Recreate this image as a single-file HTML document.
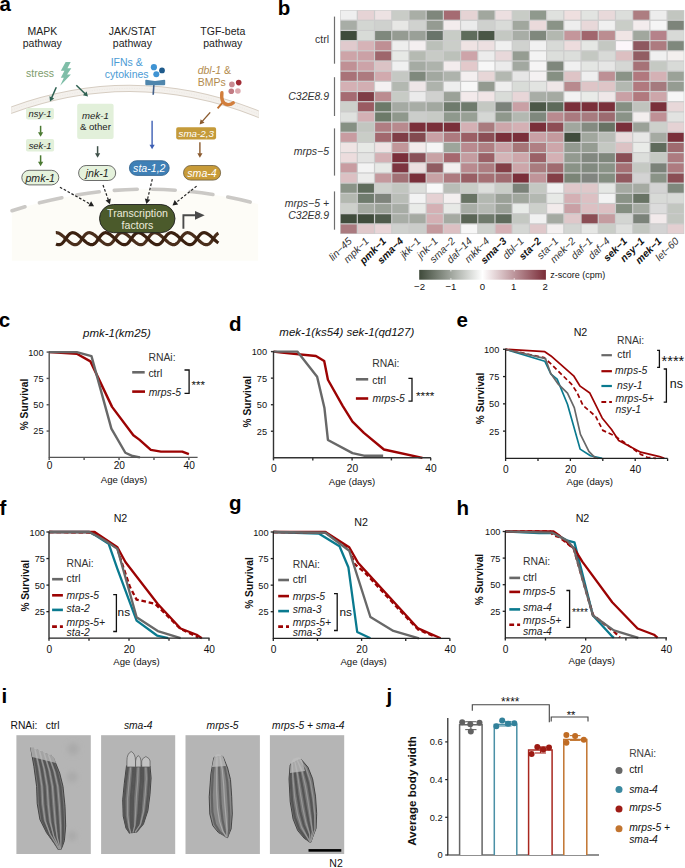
<!DOCTYPE html>
<html><head><meta charset="utf-8"><style>
html,body{margin:0;padding:0;background:#fff;}
svg{display:block;font-family:"Liberation Sans", sans-serif;}
</style></head><body>
<svg width="685" height="868" viewBox="0 0 685 868">
<text x="-0.60" y="10.70" font-size="20.5" text-anchor="start" font-weight="bold" fill="#000" >a</text>
<text x="277.80" y="14.60" font-size="20.5" text-anchor="start" font-weight="bold" fill="#000" >b</text>
<text x="-1.20" y="327.40" font-size="20.5" text-anchor="start" font-weight="bold" fill="#000" >c</text>
<text x="229.00" y="331.00" font-size="20.5" text-anchor="start" font-weight="bold" fill="#000" >d</text>
<text x="456.60" y="327.30" font-size="20.5" text-anchor="start" font-weight="bold" fill="#000" >e</text>
<text x="-0.60" y="514.60" font-size="20.5" text-anchor="start" font-weight="bold" fill="#000" >f</text>
<text x="229.00" y="510.40" font-size="20.5" text-anchor="start" font-weight="bold" fill="#000" >g</text>
<text x="456.60" y="514.90" font-size="20.5" text-anchor="start" font-weight="bold" fill="#000" >h</text>
<text x="1.50" y="702.80" font-size="20.5" text-anchor="start" font-weight="bold" fill="#000" >i</text>
<text x="386.60" y="702.60" font-size="20.5" text-anchor="start" font-weight="bold" fill="#000" >j</text>
<path d="M11.8,210.8 Q135,171.24 258.2,204.1 L258.2,260.8 L11.8,260.8 Z" fill="#fdfcf7"/>
<path d="M12,210.75 Q135,171.24 258,204.08" fill="none" stroke="#cbc9c6" stroke-width="3.6" stroke-linecap="round" stroke-dasharray="23 15" stroke-dashoffset="9.5"/>
<defs><clipPath id="memclip"><rect x="11.2" y="60" width="247.6" height="70"/></clipPath></defs>
<g clip-path="url(#memclip)">
<path d="M7.0,111.78 Q135.0,63.03 263.0,115.97" fill="none" stroke="#d6cdc2" stroke-width="7.2"/>
<path d="M7.0,111.78 Q135.0,63.03 263.0,115.97" fill="none" stroke="#f4f1ed" stroke-width="5.2"/>
<path d="M7.0,111.78 Q135.0,63.03 263.0,115.97" fill="none" stroke="#e9e4dd" stroke-width="0.6" stroke-dasharray="1 1.5"/>
</g>
<text x="42.30" y="35.20" font-size="10.5" text-anchor="middle" fill="#222" >MAPK</text>
<text x="42.30" y="47.40" font-size="10.5" text-anchor="middle" fill="#222" >pathway</text>
<text x="132.40" y="35.20" font-size="10.5" text-anchor="middle" fill="#222" >JAK/STAT</text>
<text x="132.40" y="47.40" font-size="10.5" text-anchor="middle" fill="#222" >pathway</text>
<text x="222.80" y="35.20" font-size="10.5" text-anchor="middle" fill="#222" >TGF-beta</text>
<text x="222.80" y="47.40" font-size="10.5" text-anchor="middle" fill="#222" >pathway</text>
<text x="26.00" y="76.90" font-size="10.5" text-anchor="start" fill="#7d9c6c" >stress</text>
<polygon points="65.64,61.9 70.7,61.9 67.41,68.14 71.35,68.14 67.08,74.38 70.89,74.38 60.18,85.75 63.8,77.67 60.84,77.67 64.45,70.77 60.84,70.77" fill="#7fbea8"/>
<line x1="56.30" y1="87.20" x2="51.61" y2="97.84" stroke="#2f6152" stroke-width="1.5"/>
<polygon points="50.00,101.50 49.43,96.33 54.19,98.43" fill="#2f6152"/>
<line x1="76.30" y1="85.20" x2="85.14" y2="93.81" stroke="#2f6152" stroke-width="1.5"/>
<polygon points="88.00,96.60 82.96,95.32 86.59,91.60" fill="#2f6152"/>
<line x1="40.60" y1="125.80" x2="40.60" y2="132.80" stroke="#4b7a32" stroke-width="1.5"/>
<polygon points="40.60,136.80 38.00,132.30 43.20,132.30" fill="#4b7a32"/>
<line x1="40.60" y1="155.30" x2="40.60" y2="162.30" stroke="#4b7a32" stroke-width="1.5"/>
<polygon points="40.60,166.30 38.00,161.80 43.20,161.80" fill="#4b7a32"/>
<line x1="97.60" y1="146.20" x2="97.60" y2="153.80" stroke="#3e5049" stroke-width="1.5"/>
<polygon points="97.60,157.80 95.00,153.30 100.20,153.30" fill="#3e5049"/>
<line x1="152.10" y1="120.70" x2="152.10" y2="145.30" stroke="#3d5fb4" stroke-width="1.4"/>
<polygon points="152.10,149.30 149.50,144.80 154.70,144.80" fill="#3d5fb4"/>
<line x1="210.20" y1="112.40" x2="202.25" y2="121.40" stroke="#8a5a2e" stroke-width="1.4"/>
<polygon points="199.60,124.40 200.63,119.31 204.53,122.75" fill="#8a5a2e"/>
<line x1="199.90" y1="142.20" x2="199.90" y2="153.80" stroke="#8a5a2e" stroke-width="1.4"/>
<polygon points="199.90,157.80 197.30,153.30 202.50,153.30" fill="#8a5a2e"/>
<text x="126.70" y="65.50" font-size="10.5" text-anchor="middle" fill="#4b9bd5" >IFNs &amp;</text>
<text x="126.70" y="77.60" font-size="10.5" text-anchor="middle" fill="#4b9bd5" >cytokines</text>
<circle cx="153.9" cy="67.2" r="3.1" fill="#3f93d3"/>
<circle cx="162.0" cy="70.4" r="2.9" fill="#1f5b8c"/>
<circle cx="156.3" cy="74.3" r="3.0" fill="#3f93d3"/>
<line x1="153.9" y1="84.5" x2="153.2" y2="94.7" stroke="#43608a" stroke-width="1.6"/>
<path d="M145.3,80.2 Q145.3,79.6 146.3,79.7 L151,80.6 Q155,81.4 159,80.6 L164.3,79.8 Q165.2,79.8 165.2,80.6 L165.2,84.2 Q165.2,85.2 164.2,85.2 L146.3,85.2 Q145.3,85.2 145.3,84.2 Z" fill="#4f86ad"/>
<text x="197.7" y="73.7" font-size="10.5" fill="#b38b4e"><tspan font-style="italic">dbl-1</tspan> &amp;</text>
<text x="197.70" y="85.70" font-size="10.5" text-anchor="start" fill="#b38b4e" >BMPs</text>
<circle cx="231.9" cy="84.4" r="2.8" fill="#c98b92"/>
<circle cx="238.7" cy="82.6" r="2.8" fill="#a12c36"/>
<circle cx="231.3" cy="91.3" r="2.8" fill="#c27b83"/>
<circle cx="237.9" cy="91.0" r="2.8" fill="#dca9ae"/>
<line x1="223.2" y1="101.8" x2="217.6" y2="108.4" stroke="#bf6f2e" stroke-width="1.9"/>
<path d="M221.9,92.7 Q220.6,103.4 227.3,104.5 Q230.9,105.0 233.3,102.8" fill="none" stroke="#d27e3c" stroke-width="3.4" stroke-linecap="round"/>
<rect x="26" y="107.9" width="27.9" height="11.5" rx="1.8" fill="#e2f0da"/>
<text x="40.00" y="117.20" font-size="9.4" text-anchor="middle" font-style="italic" fill="#222" >nsy-1</text>
<rect x="26" y="139.1" width="28.1" height="12.5" rx="1.8" fill="#e2f0da"/>
<text x="40.10" y="148.80" font-size="9.4" text-anchor="middle" font-style="italic" fill="#222" >sek-1</text>
<rect x="77.2" y="103.7" width="36.4" height="35.2" rx="2" fill="#e2f0da"/>
<text x="95.40" y="119.40" font-size="9.6" text-anchor="middle" font-style="italic" fill="#222" >mek-1</text>
<text x="95.40" y="130.10" font-size="9.6" text-anchor="middle" fill="#222" >&amp; other</text>
<rect x="21.8" y="170.3" width="37" height="14.6" rx="7.3" fill="#e5f2dc" stroke="#4a4a4a" stroke-width="0.8"/>
<text x="40.20" y="181.90" font-size="10.6" text-anchor="middle" font-style="italic" fill="#222" >pmk-1</text>
<rect x="78.6" y="165.5" width="37.1" height="15" rx="7.5" fill="#e5f2dc" stroke="#4a4a4a" stroke-width="0.8"/>
<text x="97.20" y="177.30" font-size="10.6" text-anchor="middle" font-style="italic" fill="#222" >jnk-1</text>
<rect x="129.4" y="160.7" width="39.8" height="14.7" rx="7.3" fill="#3f80b6" stroke="#2e5f8a" stroke-width="0.8"/>
<text x="149.30" y="172.30" font-size="10.6" text-anchor="middle" font-style="italic" fill="#fff" >sta-1,2</text>
<rect x="176.2" y="127.3" width="39.9" height="12.1" rx="1.8" fill="#c59b3a"/>
<text x="196.20" y="137.00" font-size="9.8" text-anchor="middle" font-style="italic" fill="#fff" >sma-2,3</text>
<rect x="183.5" y="165.5" width="37.1" height="14.6" rx="7.3" fill="#c89b38" stroke="#6b5a3a" stroke-width="0.8"/>
<text x="202.00" y="177.10" font-size="10.6" text-anchor="middle" font-style="italic" fill="#fff" >sma-4</text>
<line x1="59.90" y1="187.20" x2="90.17" y2="204.01" stroke="#222" stroke-width="1.2" stroke-dasharray="2.6 1.8"/>
<polygon points="94.10,206.20 88.37,206.22 91.09,201.32" fill="#222"/>
<line x1="103.00" y1="185.00" x2="108.38" y2="199.97" stroke="#222" stroke-width="1.2" stroke-dasharray="2.6 1.8"/>
<polygon points="109.90,204.20 105.57,200.44 110.84,198.55" fill="#222"/>
<line x1="152.30" y1="179.20" x2="147.45" y2="199.52" stroke="#222" stroke-width="1.2" stroke-dasharray="2.6 1.8"/>
<polygon points="146.40,203.90 144.84,198.39 150.29,199.69" fill="#222"/>
<line x1="196.60" y1="186.10" x2="176.01" y2="202.59" stroke="#222" stroke-width="1.2" stroke-dasharray="2.6 1.8"/>
<polygon points="172.50,205.40 174.65,200.09 178.15,204.46" fill="#222"/>
<polyline points="55.81,232.74 56.30,232.70 56.80,232.72 57.32,232.79 57.84,232.91 58.38,233.09 58.92,233.32 59.48,233.60 60.05,233.93 60.62,234.30 61.20,234.71 61.79,235.15 62.39,235.63 62.99,236.14 63.59,236.67 64.20,237.22 64.82,237.78 65.43,238.36 66.05,238.93 66.66,239.50 67.27,240.07 67.88,240.62 68.49,241.15 69.09,241.67 69.69,242.15 70.28,242.61 70.86,243.02 71.44,243.40 72.01,243.74 72.57,244.03 73.11,244.27 73.65,244.45 74.18,244.59 74.69,244.67 75.20,244.70 75.69,244.67 76.18,244.59 76.65,244.45 77.11,244.27 77.57,244.03 78.01,243.74 78.44,243.40 78.86,243.02 79.28,242.61 79.69,242.15 80.09,241.67 80.49,241.15 80.88,240.62 81.27,240.07 81.66,239.50 82.05,238.93 82.43,238.36 82.82,237.78 83.20,237.22 83.59,236.67 83.99,236.14 84.39,235.63 84.79,235.15 85.20,234.71 85.62,234.30 86.05,233.93 86.48,233.60 86.92,233.32 87.38,233.09 87.84,232.91 88.32,232.79 88.80,232.72 89.30,232.70 89.81,232.74 90.33,232.83 90.86,232.98 91.40,233.18 91.95,233.43 92.51,233.73 93.07,234.07 93.65,234.46 94.24,234.88 94.83,235.34 95.43,235.83 96.03,236.35 96.64,236.89 97.25,237.45 97.86,238.01 98.48,238.59 99.09,239.16 99.71,239.73 100.32,240.29 100.93,240.84 101.53,241.36 102.13,241.86 102.73,242.34 103.32,242.78 103.90,243.18 104.47,243.54 105.03,243.86 105.59,244.13 106.13,244.35 106.66,244.51 107.19,244.63 107.70,244.69 108.20,244.70 108.69,244.65 109.17,244.54 109.64,244.38 110.10,244.18 110.54,243.92 110.98,243.61 111.41,243.25 111.83,242.86 112.25,242.43 112.65,241.96 113.05,241.46 113.45,240.94 113.84,240.40 114.23,239.84 114.61,239.27 115.00,238.70 115.39,238.13 115.77,237.56 116.16,237.00 116.55,236.46 116.95,235.94 117.35,235.44 117.75,234.97 118.17,234.54 118.59,234.15 119.02,233.79 119.46,233.48 119.90,233.22 120.36,233.02 120.83,232.86 121.31,232.75 121.80,232.70 122.30,232.71 122.81,232.77 123.34,232.89 123.87,233.05 124.41,233.27 124.97,233.54 125.53,233.86 126.10,234.22 126.68,234.62 127.27,235.06 127.87,235.54 128.47,236.04 129.07,236.56 129.68,237.11 130.29,237.67 130.91,238.24 131.52,238.81 132.14,239.39 132.75,239.95 133.36,240.51 133.97,241.05 134.57,241.57 135.17,242.06 135.76,242.52 136.35,242.94 136.93,243.33 137.49,243.67 138.05,243.97 138.60,244.22 139.14,244.42 139.67,244.57 140.19,244.66 140.70,244.70 141.20,244.68 141.68,244.61 142.16,244.49 142.62,244.31 143.08,244.08 143.52,243.80 143.95,243.47 144.38,243.10 144.80,242.69 145.21,242.25 145.61,241.77 146.01,241.26 146.41,240.73 146.80,240.18 147.18,239.62 147.57,239.04 147.95,238.47 148.34,237.90 148.73,237.33 149.12,236.78 149.51,236.25 149.91,235.73 150.31,235.25 150.72,234.79 151.14,234.38 151.56,234.00 151.99,233.66 152.43,233.37 152.89,233.13 153.35,232.95 153.82,232.81 154.31,232.73 154.80,232.70 155.31,232.73 155.82,232.81 156.35,232.95 156.89,233.13 157.43,233.37 157.99,233.66 158.56,234.00 159.14,234.38 159.72,234.79 160.31,235.25 160.91,235.73 161.51,236.25 162.12,236.78 162.73,237.33 163.34,237.90 163.95,238.47 164.57,239.04 165.18,239.62 165.80,240.18 166.41,240.73 167.01,241.26 167.61,241.77 168.21,242.25 168.80,242.69 169.38,243.10 169.95,243.47 170.52,243.80 171.08,244.08 171.62,244.31 172.16,244.49 172.68,244.61 173.20,244.68 173.70,244.70 174.19,244.66 174.67,244.57 175.14,244.42 175.60,244.22 176.05,243.97 176.49,243.67 176.93,243.33 177.35,242.94 177.76,242.52 178.17,242.06 178.57,241.57 178.97,241.05 179.36,240.51 179.75,239.95 180.14,239.39 180.52,238.81 180.91,238.24 181.29,237.67 181.68,237.11 182.07,236.56 182.47,236.04 182.87,235.54 183.27,235.06 183.68,234.62 184.10,234.22 184.53,233.86 184.97,233.54 185.41,233.27 185.87,233.05 186.34,232.89 186.81,232.77 187.30,232.71 187.80,232.70 188.31,232.75 188.83,232.86 189.36,233.02 189.90,233.22 190.46,233.48 191.02,233.79 191.59,234.15 192.17,234.54 192.75,234.97 193.35,235.44 193.95,235.94 194.55,236.46 195.16,237.00 195.77,237.56 196.39,238.13 197.00,238.70 197.61,239.27 198.23,239.84 198.84,240.40 199.45,240.94 200.05,241.46 200.65,241.96 201.25,242.43 201.83,242.86 202.41,243.25 202.98,243.61 203.54,243.92 204.10,244.18 204.64,244.38 205.17,244.54 205.69,244.65 206.20,244.70 206.70,244.69 207.19,244.63 207.66,244.51 208.13,244.35 208.59,244.13 209.03,243.86 209.47,243.54 209.90,243.18 210.32,242.78 210.73,242.34 211.13,241.86 211.53,241.36 211.93,240.84 212.32,240.29 212.71,239.73 213.09,239.16 213.48,238.59 213.86,238.01 214.25,237.45 214.64,236.89 215.03,236.35 215.43,235.83 215.83,235.34 216.24,234.88 216.65,234.46 217.07,234.07 217.51,233.73 217.95,233.43 218.40,233.18" fill="none" stroke="#4a2e1c" stroke-width="3.2" stroke-linejoin="round" />
<polyline points="56.05,243.97 56.60,244.22 57.14,244.42 57.67,244.57 58.19,244.66 58.70,244.70 59.20,244.68 59.68,244.61 60.16,244.49 60.62,244.31 61.08,244.08 61.52,243.80 61.95,243.47 62.38,243.10 62.80,242.69 63.21,242.25 63.61,241.77 64.01,241.26 64.41,240.73 64.80,240.18 65.18,239.62 65.57,239.04 65.95,238.47 66.34,237.90 66.73,237.33 67.12,236.78 67.51,236.25 67.91,235.73 68.31,235.25 68.72,234.79 69.14,234.38 69.56,234.00 69.99,233.66 70.43,233.37 70.89,233.13 71.35,232.95 71.82,232.81 72.31,232.73 72.80,232.70 73.31,232.73 73.82,232.81 74.35,232.95 74.89,233.13 75.43,233.37 75.99,233.66 76.56,234.00 77.14,234.38 77.72,234.79 78.31,235.25 78.91,235.73 79.51,236.25 80.12,236.78 80.73,237.33 81.34,237.90 81.95,238.47 82.57,239.04 83.18,239.62 83.80,240.18 84.41,240.73 85.01,241.26 85.61,241.77 86.21,242.25 86.80,242.69 87.38,243.10 87.95,243.47 88.52,243.80 89.08,244.08 89.62,244.31 90.16,244.49 90.68,244.61 91.20,244.68 91.70,244.70 92.19,244.66 92.67,244.57 93.14,244.42 93.60,244.22 94.05,243.97 94.49,243.67 94.93,243.33 95.35,242.94 95.76,242.52 96.17,242.06 96.57,241.57 96.97,241.05 97.36,240.51 97.75,239.95 98.14,239.39 98.52,238.81 98.91,238.24 99.29,237.67 99.68,237.11 100.07,236.56 100.47,236.04 100.87,235.54 101.27,235.06 101.68,234.62 102.10,234.22 102.53,233.86 102.97,233.54 103.41,233.27 103.87,233.05 104.34,232.89 104.81,232.77 105.30,232.71 105.80,232.70 106.31,232.75 106.83,232.86 107.36,233.02 107.90,233.22 108.46,233.48 109.02,233.79 109.59,234.15 110.17,234.54 110.75,234.97 111.35,235.44 111.95,235.94 112.55,236.46 113.16,237.00 113.77,237.56 114.39,238.13 115.00,238.70 115.61,239.27 116.23,239.84 116.84,240.40 117.45,240.94 118.05,241.46 118.65,241.96 119.25,242.43 119.83,242.86 120.41,243.25 120.98,243.61 121.54,243.92 122.10,244.18 122.64,244.38 123.17,244.54 123.69,244.65 124.20,244.70 124.70,244.69 125.19,244.63 125.66,244.51 126.13,244.35 126.59,244.13 127.03,243.86 127.47,243.54 127.90,243.18 128.32,242.78 128.73,242.34 129.13,241.86 129.53,241.36 129.93,240.84 130.32,240.29 130.71,239.73 131.09,239.16 131.48,238.59 131.86,238.01 132.25,237.45 132.64,236.89 133.03,236.35 133.43,235.83 133.83,235.34 134.24,234.88 134.65,234.46 135.07,234.07 135.51,233.73 135.95,233.43 136.40,233.18 136.86,232.98 137.33,232.83 137.81,232.74 138.30,232.70 138.80,232.72 139.32,232.79 139.84,232.91 140.38,233.09 140.92,233.32 141.48,233.60 142.05,233.93 142.62,234.30 143.20,234.71 143.79,235.15 144.39,235.63 144.99,236.14 145.59,236.67 146.20,237.22 146.82,237.78 147.43,238.36 148.05,238.93 148.66,239.50 149.27,240.07 149.88,240.62 150.49,241.15 151.09,241.67 151.69,242.15 152.28,242.61 152.86,243.02 153.44,243.40 154.01,243.74 154.57,244.03 155.11,244.27 155.65,244.45 156.18,244.59 156.69,244.67 157.20,244.70 157.69,244.67 158.18,244.59 158.65,244.45 159.11,244.27 159.57,244.03 160.01,243.74 160.44,243.40 160.86,243.02 161.28,242.61 161.69,242.15 162.09,241.67 162.49,241.15 162.88,240.62 163.27,240.07 163.66,239.50 164.05,238.93 164.43,238.36 164.82,237.78 165.20,237.22 165.59,236.67 165.99,236.14 166.39,235.63 166.79,235.15 167.20,234.71 167.62,234.30 168.05,233.93 168.48,233.60 168.92,233.32 169.38,233.09 169.84,232.91 170.32,232.79 170.80,232.72 171.30,232.70 171.81,232.74 172.33,232.83 172.86,232.98 173.40,233.18 173.95,233.43 174.51,233.73 175.07,234.07 175.65,234.46 176.24,234.88 176.83,235.34 177.43,235.83 178.03,236.35 178.64,236.89 179.25,237.45 179.86,238.01 180.48,238.59 181.09,239.16 181.71,239.73 182.32,240.29 182.93,240.84 183.53,241.36 184.13,241.86 184.73,242.34 185.32,242.78 185.90,243.18 186.47,243.54 187.03,243.86 187.59,244.13 188.13,244.35 188.66,244.51 189.19,244.63 189.70,244.69 190.20,244.70 190.69,244.65 191.17,244.54 191.64,244.38 192.10,244.18 192.54,243.92 192.98,243.61 193.41,243.25 193.83,242.86 194.25,242.43 194.65,241.96 195.05,241.46 195.45,240.94 195.84,240.40 196.23,239.84 196.61,239.27 197.00,238.70 197.39,238.13 197.77,237.56 198.16,237.00 198.55,236.46 198.95,235.94 199.35,235.44 199.75,234.97 200.17,234.54 200.59,234.15 201.02,233.79 201.46,233.48 201.90,233.22 202.36,233.02 202.83,232.86 203.31,232.75 203.80,232.70 204.30,232.71 204.81,232.77 205.34,232.89 205.87,233.05 206.41,233.27 206.97,233.54 207.53,233.86 208.10,234.22 208.68,234.62 209.27,235.06 209.87,235.54 210.47,236.04 211.07,236.56 211.68,237.11 212.29,237.67 212.91,238.24 213.52,238.81 214.14,239.39 214.75,239.95 215.36,240.51 215.97,241.05 216.57,241.57 217.17,242.06 217.76,242.52 218.35,242.94" fill="none" stroke="#3a2010" stroke-width="3.2" stroke-linejoin="round" />
<rect x="99.5" y="204.5" width="75.5" height="28.2" rx="14.1" fill="#4b5a2b" stroke="#1f1f1f" stroke-width="0.9"/>
<text x="137.50" y="216.90" font-size="10.6" text-anchor="middle" fill="#ecebdc" >Transcription</text>
<text x="137.50" y="228.80" font-size="10.6" text-anchor="middle" fill="#ecebdc" >factors</text>
<path d="M183.4,228.8 V215.3 H196" fill="none" stroke="#4a4a4a" stroke-width="1.9"/>
<polygon points="195,210.9 204.7,215.3 195,219.8" fill="#4a4a4a"/>
<rect x="340.10" y="10.07" width="344.20" height="223.96" fill="#cccccc"/>
<rect x="340.70" y="10.67" width="16.01" height="8.98" fill="#efefef"/>
<rect x="340.70" y="20.85" width="16.01" height="8.98" fill="#a8ada6"/>
<rect x="340.70" y="31.03" width="16.01" height="8.98" fill="#3f4b3b"/>
<rect x="340.70" y="41.21" width="16.01" height="8.98" fill="#e0cacd"/>
<rect x="340.70" y="51.39" width="16.01" height="8.98" fill="#cda4a8"/>
<rect x="340.70" y="61.57" width="16.01" height="8.98" fill="#c09095"/>
<rect x="340.70" y="71.75" width="16.01" height="8.98" fill="#a97278"/>
<rect x="340.70" y="81.93" width="16.01" height="8.98" fill="#d4b0b4"/>
<rect x="340.70" y="92.11" width="16.01" height="8.98" fill="#a56b72"/>
<rect x="340.70" y="102.29" width="16.01" height="8.98" fill="#cdd0cb"/>
<rect x="340.70" y="112.47" width="16.01" height="8.98" fill="#dfe1de"/>
<rect x="340.70" y="122.65" width="16.01" height="8.98" fill="#869083"/>
<rect x="340.70" y="132.83" width="16.01" height="8.98" fill="#c89ca1"/>
<rect x="340.70" y="143.01" width="16.01" height="8.98" fill="#efe4e4"/>
<rect x="340.70" y="153.19" width="16.01" height="8.98" fill="#ecdcdd"/>
<rect x="340.70" y="163.37" width="16.01" height="8.98" fill="#c89ca1"/>
<rect x="340.70" y="173.55" width="16.01" height="8.98" fill="#dcc0c3"/>
<rect x="340.70" y="183.73" width="16.01" height="8.98" fill="#8a9387"/>
<rect x="340.70" y="193.91" width="16.01" height="8.98" fill="#b3b8b0"/>
<rect x="340.70" y="204.09" width="16.01" height="8.98" fill="#cdd0cb"/>
<rect x="340.70" y="214.27" width="16.01" height="8.98" fill="#404c3c"/>
<rect x="340.70" y="224.45" width="16.01" height="8.98" fill="#aa7a7f"/>
<rect x="357.91" y="10.67" width="16.01" height="8.98" fill="#e6d3d5"/>
<rect x="357.91" y="20.85" width="16.01" height="8.98" fill="#d3d6d2"/>
<rect x="357.91" y="31.03" width="16.01" height="8.98" fill="#d8dbd7"/>
<rect x="357.91" y="41.21" width="16.01" height="8.98" fill="#d6b3b7"/>
<rect x="357.91" y="51.39" width="16.01" height="8.98" fill="#cba1a6"/>
<rect x="357.91" y="61.57" width="16.01" height="8.98" fill="#cca3a8"/>
<rect x="357.91" y="71.75" width="16.01" height="8.98" fill="#ad7a7f"/>
<rect x="357.91" y="81.93" width="16.01" height="8.98" fill="#d2aeb2"/>
<rect x="357.91" y="92.11" width="16.01" height="8.98" fill="#7f3d46"/>
<rect x="357.91" y="102.29" width="16.01" height="8.98" fill="#9a5b62"/>
<rect x="357.91" y="112.47" width="16.01" height="8.98" fill="#d3b0b4"/>
<rect x="357.91" y="122.65" width="16.01" height="8.98" fill="#c2c6c0"/>
<rect x="357.91" y="132.83" width="16.01" height="8.98" fill="#c9cdc7"/>
<rect x="357.91" y="143.01" width="16.01" height="8.98" fill="#e7e9e6"/>
<rect x="357.91" y="153.19" width="16.01" height="8.98" fill="#e3e3e2"/>
<rect x="357.91" y="163.37" width="16.01" height="8.98" fill="#f3f3f3"/>
<rect x="357.91" y="173.55" width="16.01" height="8.98" fill="#ececeb"/>
<rect x="357.91" y="183.73" width="16.01" height="8.98" fill="#5f6c5c"/>
<rect x="357.91" y="193.91" width="16.01" height="8.98" fill="#6f7b6d"/>
<rect x="357.91" y="204.09" width="16.01" height="8.98" fill="#a5aaa2"/>
<rect x="357.91" y="214.27" width="16.01" height="8.98" fill="#404c3c"/>
<rect x="357.91" y="224.45" width="16.01" height="8.98" fill="#dfc8ca"/>
<rect x="375.12" y="10.67" width="16.01" height="8.98" fill="#ede2e3"/>
<rect x="375.12" y="20.85" width="16.01" height="8.98" fill="#cfd1ce"/>
<rect x="375.12" y="31.03" width="16.01" height="8.98" fill="#7f887d"/>
<rect x="375.12" y="41.21" width="16.01" height="8.98" fill="#bf8f94"/>
<rect x="375.12" y="51.39" width="16.01" height="8.98" fill="#9e666c"/>
<rect x="375.12" y="61.57" width="16.01" height="8.98" fill="#dbc3c5"/>
<rect x="375.12" y="71.75" width="16.01" height="8.98" fill="#d1aaae"/>
<rect x="375.12" y="81.93" width="16.01" height="8.98" fill="#f4f1f2"/>
<rect x="375.12" y="92.11" width="16.01" height="8.98" fill="#bb8c90"/>
<rect x="375.12" y="102.29" width="16.01" height="8.98" fill="#6d7a69"/>
<rect x="375.12" y="112.47" width="16.01" height="8.98" fill="#6d7a69"/>
<rect x="375.12" y="122.65" width="16.01" height="8.98" fill="#b07d82"/>
<rect x="375.12" y="132.83" width="16.01" height="8.98" fill="#a2686e"/>
<rect x="375.12" y="143.01" width="16.01" height="8.98" fill="#efe3e4"/>
<rect x="375.12" y="153.19" width="16.01" height="8.98" fill="#d4b0b4"/>
<rect x="375.12" y="163.37" width="16.01" height="8.98" fill="#e7e9e6"/>
<rect x="375.12" y="173.55" width="16.01" height="8.98" fill="#c4999d"/>
<rect x="375.12" y="183.73" width="16.01" height="8.98" fill="#cdd0cb"/>
<rect x="375.12" y="193.91" width="16.01" height="8.98" fill="#7f847c"/>
<rect x="375.12" y="204.09" width="16.01" height="8.98" fill="#9ba198"/>
<rect x="375.12" y="214.27" width="16.01" height="8.98" fill="#4f5b4c"/>
<rect x="375.12" y="224.45" width="16.01" height="8.98" fill="#e8d5d7"/>
<rect x="392.33" y="10.67" width="16.01" height="8.98" fill="#c9ccc7"/>
<rect x="392.33" y="20.85" width="16.01" height="8.98" fill="#e7e7e5"/>
<rect x="392.33" y="31.03" width="16.01" height="8.98" fill="#959b92"/>
<rect x="392.33" y="41.21" width="16.01" height="8.98" fill="#eeeeed"/>
<rect x="392.33" y="51.39" width="16.01" height="8.98" fill="#e7e9e6"/>
<rect x="392.33" y="61.57" width="16.01" height="8.98" fill="#f0f0f0"/>
<rect x="392.33" y="71.75" width="16.01" height="8.98" fill="#c5c8c3"/>
<rect x="392.33" y="81.93" width="16.01" height="8.98" fill="#b3b8b1"/>
<rect x="392.33" y="92.11" width="16.01" height="8.98" fill="#c7cbc5"/>
<rect x="392.33" y="102.29" width="16.01" height="8.98" fill="#a5aaa3"/>
<rect x="392.33" y="112.47" width="16.01" height="8.98" fill="#8f988c"/>
<rect x="392.33" y="122.65" width="16.01" height="8.98" fill="#b88a8e"/>
<rect x="392.33" y="132.83" width="16.01" height="8.98" fill="#7f3d46"/>
<rect x="392.33" y="143.01" width="16.01" height="8.98" fill="#c19699"/>
<rect x="392.33" y="153.19" width="16.01" height="8.98" fill="#7a2f3a"/>
<rect x="392.33" y="163.37" width="16.01" height="8.98" fill="#7d3540"/>
<rect x="392.33" y="173.55" width="16.01" height="8.98" fill="#a27175"/>
<rect x="392.33" y="183.73" width="16.01" height="8.98" fill="#c2c6c0"/>
<rect x="392.33" y="193.91" width="16.01" height="8.98" fill="#b9bdb7"/>
<rect x="392.33" y="204.09" width="16.01" height="8.98" fill="#a8ada6"/>
<rect x="392.33" y="214.27" width="16.01" height="8.98" fill="#a8ada6"/>
<rect x="392.33" y="224.45" width="16.01" height="8.98" fill="#cfd1ce"/>
<rect x="409.54" y="10.67" width="16.01" height="8.98" fill="#a9aea6"/>
<rect x="409.54" y="20.85" width="16.01" height="8.98" fill="#d0d2cf"/>
<rect x="409.54" y="31.03" width="16.01" height="8.98" fill="#9aa098"/>
<rect x="409.54" y="41.21" width="16.01" height="8.98" fill="#f4eff0"/>
<rect x="409.54" y="51.39" width="16.01" height="8.98" fill="#b5bab2"/>
<rect x="409.54" y="61.57" width="16.01" height="8.98" fill="#a5aba3"/>
<rect x="409.54" y="71.75" width="16.01" height="8.98" fill="#7f897d"/>
<rect x="409.54" y="81.93" width="16.01" height="8.98" fill="#eee6e7"/>
<rect x="409.54" y="92.11" width="16.01" height="8.98" fill="#ebebeb"/>
<rect x="409.54" y="102.29" width="16.01" height="8.98" fill="#a8ada6"/>
<rect x="409.54" y="112.47" width="16.01" height="8.98" fill="#cbcdca"/>
<rect x="409.54" y="122.65" width="16.01" height="8.98" fill="#7a2f3a"/>
<rect x="409.54" y="132.83" width="16.01" height="8.98" fill="#834a50"/>
<rect x="409.54" y="143.01" width="16.01" height="8.98" fill="#f3ebeb"/>
<rect x="409.54" y="153.19" width="16.01" height="8.98" fill="#8a5058"/>
<rect x="409.54" y="163.37" width="16.01" height="8.98" fill="#ecdfe0"/>
<rect x="409.54" y="173.55" width="16.01" height="8.98" fill="#7a2f3a"/>
<rect x="409.54" y="183.73" width="16.01" height="8.98" fill="#dcdedb"/>
<rect x="409.54" y="193.91" width="16.01" height="8.98" fill="#f3f3f3"/>
<rect x="409.54" y="204.09" width="16.01" height="8.98" fill="#e9ebe8"/>
<rect x="409.54" y="214.27" width="16.01" height="8.98" fill="#a5aaa2"/>
<rect x="409.54" y="224.45" width="16.01" height="8.98" fill="#cbcdca"/>
<rect x="426.75" y="10.67" width="16.01" height="8.98" fill="#7f877c"/>
<rect x="426.75" y="20.85" width="16.01" height="8.98" fill="#959b92"/>
<rect x="426.75" y="31.03" width="16.01" height="8.98" fill="#69746a"/>
<rect x="426.75" y="41.21" width="16.01" height="8.98" fill="#bbc0b9"/>
<rect x="426.75" y="51.39" width="16.01" height="8.98" fill="#c8cbc6"/>
<rect x="426.75" y="61.57" width="16.01" height="8.98" fill="#aeb3ac"/>
<rect x="426.75" y="71.75" width="16.01" height="8.98" fill="#a2a8a0"/>
<rect x="426.75" y="81.93" width="16.01" height="8.98" fill="#aeb3ac"/>
<rect x="426.75" y="92.11" width="16.01" height="8.98" fill="#d0d1cf"/>
<rect x="426.75" y="102.29" width="16.01" height="8.98" fill="#a2a8a0"/>
<rect x="426.75" y="112.47" width="16.01" height="8.98" fill="#c7cac5"/>
<rect x="426.75" y="122.65" width="16.01" height="8.98" fill="#7a2f3a"/>
<rect x="426.75" y="132.83" width="16.01" height="8.98" fill="#c9a0a5"/>
<rect x="426.75" y="143.01" width="16.01" height="8.98" fill="#f5f5f5"/>
<rect x="426.75" y="153.19" width="16.01" height="8.98" fill="#c8a2a5"/>
<rect x="426.75" y="163.37" width="16.01" height="8.98" fill="#905c62"/>
<rect x="426.75" y="173.55" width="16.01" height="8.98" fill="#c8a2a5"/>
<rect x="426.75" y="183.73" width="16.01" height="8.98" fill="#f8f8f8"/>
<rect x="426.75" y="193.91" width="16.01" height="8.98" fill="#e5d1d3"/>
<rect x="426.75" y="204.09" width="16.01" height="8.98" fill="#d4b0b4"/>
<rect x="426.75" y="214.27" width="16.01" height="8.98" fill="#d4b0b4"/>
<rect x="426.75" y="224.45" width="16.01" height="8.98" fill="#c4999d"/>
<rect x="443.96" y="10.67" width="16.01" height="8.98" fill="#a56b72"/>
<rect x="443.96" y="20.85" width="16.01" height="8.98" fill="#f3eced"/>
<rect x="443.96" y="31.03" width="16.01" height="8.98" fill="#c8ccc6"/>
<rect x="443.96" y="41.21" width="16.01" height="8.98" fill="#cbcec9"/>
<rect x="443.96" y="51.39" width="16.01" height="8.98" fill="#bcc1ba"/>
<rect x="443.96" y="61.57" width="16.01" height="8.98" fill="#f3eced"/>
<rect x="443.96" y="71.75" width="16.01" height="8.98" fill="#aeb3ac"/>
<rect x="443.96" y="81.93" width="16.01" height="8.98" fill="#eeeeee"/>
<rect x="443.96" y="92.11" width="16.01" height="8.98" fill="#9ba198"/>
<rect x="443.96" y="102.29" width="16.01" height="8.98" fill="#6f7b6d"/>
<rect x="443.96" y="112.47" width="16.01" height="8.98" fill="#8f998d"/>
<rect x="443.96" y="122.65" width="16.01" height="8.98" fill="#7a2f3a"/>
<rect x="443.96" y="132.83" width="16.01" height="8.98" fill="#ad7a7f"/>
<rect x="443.96" y="143.01" width="16.01" height="8.98" fill="#9da59b"/>
<rect x="443.96" y="153.19" width="16.01" height="8.98" fill="#a6686f"/>
<rect x="443.96" y="163.37" width="16.01" height="8.98" fill="#f3efef"/>
<rect x="443.96" y="173.55" width="16.01" height="8.98" fill="#ae7b80"/>
<rect x="443.96" y="183.73" width="16.01" height="8.98" fill="#b9bdb7"/>
<rect x="443.96" y="193.91" width="16.01" height="8.98" fill="#f3efef"/>
<rect x="443.96" y="204.09" width="16.01" height="8.98" fill="#e7e9e6"/>
<rect x="443.96" y="214.27" width="16.01" height="8.98" fill="#a5aaa2"/>
<rect x="443.96" y="224.45" width="16.01" height="8.98" fill="#dcc0c3"/>
<rect x="461.17" y="10.67" width="16.01" height="8.98" fill="#e5d3d4"/>
<rect x="461.17" y="20.85" width="16.01" height="8.98" fill="#ebebeb"/>
<rect x="461.17" y="31.03" width="16.01" height="8.98" fill="#5f6c5c"/>
<rect x="461.17" y="41.21" width="16.01" height="8.98" fill="#efe3e3"/>
<rect x="461.17" y="51.39" width="16.01" height="8.98" fill="#cda4a9"/>
<rect x="461.17" y="61.57" width="16.01" height="8.98" fill="#e3c9cb"/>
<rect x="461.17" y="71.75" width="16.01" height="8.98" fill="#f4eff0"/>
<rect x="461.17" y="81.93" width="16.01" height="8.98" fill="#f7f7f7"/>
<rect x="461.17" y="92.11" width="16.01" height="8.98" fill="#f3eaeb"/>
<rect x="461.17" y="102.29" width="16.01" height="8.98" fill="#6f7b6d"/>
<rect x="461.17" y="112.47" width="16.01" height="8.98" fill="#98a095"/>
<rect x="461.17" y="122.65" width="16.01" height="8.98" fill="#d4b0b4"/>
<rect x="461.17" y="132.83" width="16.01" height="8.98" fill="#9b5f65"/>
<rect x="461.17" y="143.01" width="16.01" height="8.98" fill="#b98a8f"/>
<rect x="461.17" y="153.19" width="16.01" height="8.98" fill="#c49ca0"/>
<rect x="461.17" y="163.37" width="16.01" height="8.98" fill="#b98a8f"/>
<rect x="461.17" y="173.55" width="16.01" height="8.98" fill="#995f65"/>
<rect x="461.17" y="183.73" width="16.01" height="8.98" fill="#c9cdc7"/>
<rect x="461.17" y="193.91" width="16.01" height="8.98" fill="#687364"/>
<rect x="461.17" y="204.09" width="16.01" height="8.98" fill="#a8ada6"/>
<rect x="461.17" y="214.27" width="16.01" height="8.98" fill="#5a6556"/>
<rect x="461.17" y="224.45" width="16.01" height="8.98" fill="#f6f6f6"/>
<rect x="478.38" y="10.67" width="16.01" height="8.98" fill="#a1a79e"/>
<rect x="478.38" y="20.85" width="16.01" height="8.98" fill="#cfd1ce"/>
<rect x="478.38" y="31.03" width="16.01" height="8.98" fill="#4a5646"/>
<rect x="478.38" y="41.21" width="16.01" height="8.98" fill="#ede0e1"/>
<rect x="478.38" y="51.39" width="16.01" height="8.98" fill="#ececec"/>
<rect x="478.38" y="61.57" width="16.01" height="8.98" fill="#f7f7f7"/>
<rect x="478.38" y="71.75" width="16.01" height="8.98" fill="#e7d6d7"/>
<rect x="478.38" y="81.93" width="16.01" height="8.98" fill="#939a90"/>
<rect x="478.38" y="92.11" width="16.01" height="8.98" fill="#f1e5e6"/>
<rect x="478.38" y="102.29" width="16.01" height="8.98" fill="#c4c8c2"/>
<rect x="478.38" y="112.47" width="16.01" height="8.98" fill="#d5d7d4"/>
<rect x="478.38" y="122.65" width="16.01" height="8.98" fill="#a97b7e"/>
<rect x="478.38" y="132.83" width="16.01" height="8.98" fill="#8b4e55"/>
<rect x="478.38" y="143.01" width="16.01" height="8.98" fill="#b07f83"/>
<rect x="478.38" y="153.19" width="16.01" height="8.98" fill="#9b6167"/>
<rect x="478.38" y="163.37" width="16.01" height="8.98" fill="#ad7d81"/>
<rect x="478.38" y="173.55" width="16.01" height="8.98" fill="#a57074"/>
<rect x="478.38" y="183.73" width="16.01" height="8.98" fill="#dcdedb"/>
<rect x="478.38" y="193.91" width="16.01" height="8.98" fill="#b3b8b1"/>
<rect x="478.38" y="204.09" width="16.01" height="8.98" fill="#b6bab4"/>
<rect x="478.38" y="214.27" width="16.01" height="8.98" fill="#6f7a6c"/>
<rect x="478.38" y="224.45" width="16.01" height="8.98" fill="#cfd2ce"/>
<rect x="495.59" y="10.67" width="16.01" height="8.98" fill="#ecdfe0"/>
<rect x="495.59" y="20.85" width="16.01" height="8.98" fill="#d9dbd8"/>
<rect x="495.59" y="31.03" width="16.01" height="8.98" fill="#c4c8c2"/>
<rect x="495.59" y="41.21" width="16.01" height="8.98" fill="#f0f0f0"/>
<rect x="495.59" y="51.39" width="16.01" height="8.98" fill="#e8d8da"/>
<rect x="495.59" y="61.57" width="16.01" height="8.98" fill="#ebebeb"/>
<rect x="495.59" y="71.75" width="16.01" height="8.98" fill="#b3b8b1"/>
<rect x="495.59" y="81.93" width="16.01" height="8.98" fill="#eeeeee"/>
<rect x="495.59" y="92.11" width="16.01" height="8.98" fill="#d9dcd8"/>
<rect x="495.59" y="102.29" width="16.01" height="8.98" fill="#7b827a"/>
<rect x="495.59" y="112.47" width="16.01" height="8.98" fill="#8f988c"/>
<rect x="495.59" y="122.65" width="16.01" height="8.98" fill="#cda6aa"/>
<rect x="495.59" y="132.83" width="16.01" height="8.98" fill="#7a2f3a"/>
<rect x="495.59" y="143.01" width="16.01" height="8.98" fill="#c9a0a5"/>
<rect x="495.59" y="153.19" width="16.01" height="8.98" fill="#d4b4b7"/>
<rect x="495.59" y="163.37" width="16.01" height="8.98" fill="#843f47"/>
<rect x="495.59" y="173.55" width="16.01" height="8.98" fill="#a06b70"/>
<rect x="495.59" y="183.73" width="16.01" height="8.98" fill="#c9cdc7"/>
<rect x="495.59" y="193.91" width="16.01" height="8.98" fill="#9ba198"/>
<rect x="495.59" y="204.09" width="16.01" height="8.98" fill="#9ba198"/>
<rect x="495.59" y="214.27" width="16.01" height="8.98" fill="#5f6b5c"/>
<rect x="495.59" y="224.45" width="16.01" height="8.98" fill="#d4b0b4"/>
<rect x="512.80" y="10.67" width="16.01" height="8.98" fill="#c8ccc6"/>
<rect x="512.80" y="20.85" width="16.01" height="8.98" fill="#a1a79e"/>
<rect x="512.80" y="31.03" width="16.01" height="8.98" fill="#a8ada6"/>
<rect x="512.80" y="41.21" width="16.01" height="8.98" fill="#d0d2cf"/>
<rect x="512.80" y="51.39" width="16.01" height="8.98" fill="#959c92"/>
<rect x="512.80" y="61.57" width="16.01" height="8.98" fill="#a2a8a0"/>
<rect x="512.80" y="71.75" width="16.01" height="8.98" fill="#e6e6e6"/>
<rect x="512.80" y="81.93" width="16.01" height="8.98" fill="#d9dcd8"/>
<rect x="512.80" y="92.11" width="16.01" height="8.98" fill="#e8d6d8"/>
<rect x="512.80" y="102.29" width="16.01" height="8.98" fill="#c9a0a5"/>
<rect x="512.80" y="112.47" width="16.01" height="8.98" fill="#b3b8b1"/>
<rect x="512.80" y="122.65" width="16.01" height="8.98" fill="#d4b0b4"/>
<rect x="512.80" y="132.83" width="16.01" height="8.98" fill="#7a2f3a"/>
<rect x="512.80" y="143.01" width="16.01" height="8.98" fill="#a67577"/>
<rect x="512.80" y="153.19" width="16.01" height="8.98" fill="#cda6aa"/>
<rect x="512.80" y="163.37" width="16.01" height="8.98" fill="#cda6aa"/>
<rect x="512.80" y="173.55" width="16.01" height="8.98" fill="#7a2f3a"/>
<rect x="512.80" y="183.73" width="16.01" height="8.98" fill="#7b8279"/>
<rect x="512.80" y="193.91" width="16.01" height="8.98" fill="#a1a79e"/>
<rect x="512.80" y="204.09" width="16.01" height="8.98" fill="#e8ebe8"/>
<rect x="512.80" y="214.27" width="16.01" height="8.98" fill="#c4c8c2"/>
<rect x="512.80" y="224.45" width="16.01" height="8.98" fill="#d5d7d4"/>
<rect x="530.01" y="10.67" width="16.01" height="8.98" fill="#8f998d"/>
<rect x="530.01" y="20.85" width="16.01" height="8.98" fill="#eadadb"/>
<rect x="530.01" y="31.03" width="16.01" height="8.98" fill="#7f887d"/>
<rect x="530.01" y="41.21" width="16.01" height="8.98" fill="#f1f1f1"/>
<rect x="530.01" y="51.39" width="16.01" height="8.98" fill="#f3f3f3"/>
<rect x="530.01" y="61.57" width="16.01" height="8.98" fill="#f6f5f5"/>
<rect x="530.01" y="71.75" width="16.01" height="8.98" fill="#f4f1f2"/>
<rect x="530.01" y="81.93" width="16.01" height="8.98" fill="#e2e4e1"/>
<rect x="530.01" y="92.11" width="16.01" height="8.98" fill="#a8ada6"/>
<rect x="530.01" y="102.29" width="16.01" height="8.98" fill="#4c5848"/>
<rect x="530.01" y="112.47" width="16.01" height="8.98" fill="#7f887d"/>
<rect x="530.01" y="122.65" width="16.01" height="8.98" fill="#7a2f3a"/>
<rect x="530.01" y="132.83" width="16.01" height="8.98" fill="#c9a0a5"/>
<rect x="530.01" y="143.01" width="16.01" height="8.98" fill="#b07f83"/>
<rect x="530.01" y="153.19" width="16.01" height="8.98" fill="#9b6167"/>
<rect x="530.01" y="163.37" width="16.01" height="8.98" fill="#a97b7e"/>
<rect x="530.01" y="173.55" width="16.01" height="8.98" fill="#c09499"/>
<rect x="530.01" y="183.73" width="16.01" height="8.98" fill="#c4c8c2"/>
<rect x="530.01" y="193.91" width="16.01" height="8.98" fill="#b3b8b1"/>
<rect x="530.01" y="204.09" width="16.01" height="8.98" fill="#cdd0cb"/>
<rect x="530.01" y="214.27" width="16.01" height="8.98" fill="#f1f1f1"/>
<rect x="530.01" y="224.45" width="16.01" height="8.98" fill="#dfc8ca"/>
<rect x="547.22" y="10.67" width="16.01" height="8.98" fill="#dfe1de"/>
<rect x="547.22" y="20.85" width="16.01" height="8.98" fill="#8a9387"/>
<rect x="547.22" y="31.03" width="16.01" height="8.98" fill="#b3b8b0"/>
<rect x="547.22" y="41.21" width="16.01" height="8.98" fill="#d8dad7"/>
<rect x="547.22" y="51.39" width="16.01" height="8.98" fill="#dcdedb"/>
<rect x="547.22" y="61.57" width="16.01" height="8.98" fill="#7f877c"/>
<rect x="547.22" y="71.75" width="16.01" height="8.98" fill="#869083"/>
<rect x="547.22" y="81.93" width="16.01" height="8.98" fill="#efe6e7"/>
<rect x="547.22" y="92.11" width="16.01" height="8.98" fill="#a5aaa2"/>
<rect x="547.22" y="102.29" width="16.01" height="8.98" fill="#5d6a5a"/>
<rect x="547.22" y="112.47" width="16.01" height="8.98" fill="#b98a8f"/>
<rect x="547.22" y="122.65" width="16.01" height="8.98" fill="#8e4d55"/>
<rect x="547.22" y="132.83" width="16.01" height="8.98" fill="#c49a9e"/>
<rect x="547.22" y="143.01" width="16.01" height="8.98" fill="#cda6aa"/>
<rect x="547.22" y="153.19" width="16.01" height="8.98" fill="#d4b0b4"/>
<rect x="547.22" y="163.37" width="16.01" height="8.98" fill="#a06b70"/>
<rect x="547.22" y="173.55" width="16.01" height="8.98" fill="#843f47"/>
<rect x="547.22" y="183.73" width="16.01" height="8.98" fill="#f1f1f1"/>
<rect x="547.22" y="193.91" width="16.01" height="8.98" fill="#e7e9e6"/>
<rect x="547.22" y="204.09" width="16.01" height="8.98" fill="#f2ebeb"/>
<rect x="547.22" y="214.27" width="16.01" height="8.98" fill="#a5aaa2"/>
<rect x="547.22" y="224.45" width="16.01" height="8.98" fill="#f3efef"/>
<rect x="564.43" y="10.67" width="16.01" height="8.98" fill="#eedfdf"/>
<rect x="564.43" y="20.85" width="16.01" height="8.98" fill="#eeeeee"/>
<rect x="564.43" y="31.03" width="16.01" height="8.98" fill="#c4969b"/>
<rect x="564.43" y="41.21" width="16.01" height="8.98" fill="#eddcdd"/>
<rect x="564.43" y="51.39" width="16.01" height="8.98" fill="#dcdedb"/>
<rect x="564.43" y="61.57" width="16.01" height="8.98" fill="#f0f0f0"/>
<rect x="564.43" y="71.75" width="16.01" height="8.98" fill="#dec4c6"/>
<rect x="564.43" y="81.93" width="16.01" height="8.98" fill="#b88a8e"/>
<rect x="564.43" y="92.11" width="16.01" height="8.98" fill="#f2f2f2"/>
<rect x="564.43" y="102.29" width="16.01" height="8.98" fill="#7a2f3a"/>
<rect x="564.43" y="112.47" width="16.01" height="8.98" fill="#aa7a7f"/>
<rect x="564.43" y="122.65" width="16.01" height="8.98" fill="#a1a79e"/>
<rect x="564.43" y="132.83" width="16.01" height="8.98" fill="#404c3c"/>
<rect x="564.43" y="143.01" width="16.01" height="8.98" fill="#939a90"/>
<rect x="564.43" y="153.19" width="16.01" height="8.98" fill="#939a90"/>
<rect x="564.43" y="163.37" width="16.01" height="8.98" fill="#8a9387"/>
<rect x="564.43" y="173.55" width="16.01" height="8.98" fill="#7b8577"/>
<rect x="564.43" y="183.73" width="16.01" height="8.98" fill="#dfc8ca"/>
<rect x="564.43" y="193.91" width="16.01" height="8.98" fill="#d4b0b4"/>
<rect x="564.43" y="204.09" width="16.01" height="8.98" fill="#c9a0a5"/>
<rect x="564.43" y="214.27" width="16.01" height="8.98" fill="#dfc8ca"/>
<rect x="564.43" y="224.45" width="16.01" height="8.98" fill="#d3d5d2"/>
<rect x="581.64" y="10.67" width="16.01" height="8.98" fill="#e2e4e1"/>
<rect x="581.64" y="20.85" width="16.01" height="8.98" fill="#e8d8d9"/>
<rect x="581.64" y="31.03" width="16.01" height="8.98" fill="#a1666d"/>
<rect x="581.64" y="41.21" width="16.01" height="8.98" fill="#e5e7e4"/>
<rect x="581.64" y="51.39" width="16.01" height="8.98" fill="#c4c8c2"/>
<rect x="581.64" y="61.57" width="16.01" height="8.98" fill="#e4e6e3"/>
<rect x="581.64" y="71.75" width="16.01" height="8.98" fill="#efefef"/>
<rect x="581.64" y="81.93" width="16.01" height="8.98" fill="#dec5c7"/>
<rect x="581.64" y="92.11" width="16.01" height="8.98" fill="#e9ebe8"/>
<rect x="581.64" y="102.29" width="16.01" height="8.98" fill="#7a2f3a"/>
<rect x="581.64" y="112.47" width="16.01" height="8.98" fill="#a77b7f"/>
<rect x="581.64" y="122.65" width="16.01" height="8.98" fill="#848b81"/>
<rect x="581.64" y="132.83" width="16.01" height="8.98" fill="#a1a79e"/>
<rect x="581.64" y="143.01" width="16.01" height="8.98" fill="#959c92"/>
<rect x="581.64" y="153.19" width="16.01" height="8.98" fill="#828880"/>
<rect x="581.64" y="163.37" width="16.01" height="8.98" fill="#828a80"/>
<rect x="581.64" y="173.55" width="16.01" height="8.98" fill="#818580"/>
<rect x="581.64" y="183.73" width="16.01" height="8.98" fill="#dfc8ca"/>
<rect x="581.64" y="193.91" width="16.01" height="8.98" fill="#dcc0c3"/>
<rect x="581.64" y="204.09" width="16.01" height="8.98" fill="#dcc0c3"/>
<rect x="581.64" y="214.27" width="16.01" height="8.98" fill="#8b4e55"/>
<rect x="581.64" y="224.45" width="16.01" height="8.98" fill="#e5e6e4"/>
<rect x="598.85" y="10.67" width="16.01" height="8.98" fill="#e8d9da"/>
<rect x="598.85" y="20.85" width="16.01" height="8.98" fill="#f0f0f0"/>
<rect x="598.85" y="31.03" width="16.01" height="8.98" fill="#bb8d91"/>
<rect x="598.85" y="41.21" width="16.01" height="8.98" fill="#c4c8c2"/>
<rect x="598.85" y="51.39" width="16.01" height="8.98" fill="#d8dad7"/>
<rect x="598.85" y="61.57" width="16.01" height="8.98" fill="#e6e6e5"/>
<rect x="598.85" y="71.75" width="16.01" height="8.98" fill="#bd9095"/>
<rect x="598.85" y="81.93" width="16.01" height="8.98" fill="#dec5c7"/>
<rect x="598.85" y="92.11" width="16.01" height="8.98" fill="#efe7e8"/>
<rect x="598.85" y="102.29" width="16.01" height="8.98" fill="#7a2f3a"/>
<rect x="598.85" y="112.47" width="16.01" height="8.98" fill="#9c6b70"/>
<rect x="598.85" y="122.65" width="16.01" height="8.98" fill="#687364"/>
<rect x="598.85" y="132.83" width="16.01" height="8.98" fill="#b9bdb7"/>
<rect x="598.85" y="143.01" width="16.01" height="8.98" fill="#c4c8c2"/>
<rect x="598.85" y="153.19" width="16.01" height="8.98" fill="#7f877c"/>
<rect x="598.85" y="163.37" width="16.01" height="8.98" fill="#8a9387"/>
<rect x="598.85" y="173.55" width="16.01" height="8.98" fill="#848e81"/>
<rect x="598.85" y="183.73" width="16.01" height="8.98" fill="#e5e7e4"/>
<rect x="598.85" y="193.91" width="16.01" height="8.98" fill="#f3f3f3"/>
<rect x="598.85" y="204.09" width="16.01" height="8.98" fill="#dcc0c3"/>
<rect x="598.85" y="214.27" width="16.01" height="8.98" fill="#c49ca0"/>
<rect x="598.85" y="224.45" width="16.01" height="8.98" fill="#c9cdc7"/>
<rect x="616.06" y="10.67" width="16.01" height="8.98" fill="#dcdedb"/>
<rect x="616.06" y="20.85" width="16.01" height="8.98" fill="#c9cdc7"/>
<rect x="616.06" y="31.03" width="16.01" height="8.98" fill="#f0e5e5"/>
<rect x="616.06" y="41.21" width="16.01" height="8.98" fill="#fcf6fa"/>
<rect x="616.06" y="51.39" width="16.01" height="8.98" fill="#dcbfc1"/>
<rect x="616.06" y="61.57" width="16.01" height="8.98" fill="#d5d7d4"/>
<rect x="616.06" y="71.75" width="16.01" height="8.98" fill="#8a9387"/>
<rect x="616.06" y="81.93" width="16.01" height="8.98" fill="#b3b8b1"/>
<rect x="616.06" y="92.11" width="16.01" height="8.98" fill="#c9a0a5"/>
<rect x="616.06" y="102.29" width="16.01" height="8.98" fill="#869083"/>
<rect x="616.06" y="112.47" width="16.01" height="8.98" fill="#8a9387"/>
<rect x="616.06" y="122.65" width="16.01" height="8.98" fill="#7a2f3a"/>
<rect x="616.06" y="132.83" width="16.01" height="8.98" fill="#eadcdd"/>
<rect x="616.06" y="143.01" width="16.01" height="8.98" fill="#dcc2c4"/>
<rect x="616.06" y="153.19" width="16.01" height="8.98" fill="#8a4e55"/>
<rect x="616.06" y="163.37" width="16.01" height="8.98" fill="#a57074"/>
<rect x="616.06" y="173.55" width="16.01" height="8.98" fill="#925a60"/>
<rect x="616.06" y="183.73" width="16.01" height="8.98" fill="#a5aaa2"/>
<rect x="616.06" y="193.91" width="16.01" height="8.98" fill="#8a9387"/>
<rect x="616.06" y="204.09" width="16.01" height="8.98" fill="#848e81"/>
<rect x="616.06" y="214.27" width="16.01" height="8.98" fill="#d3d5d2"/>
<rect x="616.06" y="224.45" width="16.01" height="8.98" fill="#dfe0de"/>
<rect x="633.27" y="10.67" width="16.01" height="8.98" fill="#ad7d81"/>
<rect x="633.27" y="20.85" width="16.01" height="8.98" fill="#f3eced"/>
<rect x="633.27" y="31.03" width="16.01" height="8.98" fill="#a1a79e"/>
<rect x="633.27" y="41.21" width="16.01" height="8.98" fill="#8e5860"/>
<rect x="633.27" y="51.39" width="16.01" height="8.98" fill="#925d63"/>
<rect x="633.27" y="61.57" width="16.01" height="8.98" fill="#a67277"/>
<rect x="633.27" y="71.75" width="16.01" height="8.98" fill="#b1787e"/>
<rect x="633.27" y="81.93" width="16.01" height="8.98" fill="#b1797e"/>
<rect x="633.27" y="92.11" width="16.01" height="8.98" fill="#b1797e"/>
<rect x="633.27" y="102.29" width="16.01" height="8.98" fill="#c0c3bd"/>
<rect x="633.27" y="112.47" width="16.01" height="8.98" fill="#f3eeee"/>
<rect x="633.27" y="122.65" width="16.01" height="8.98" fill="#9ba198"/>
<rect x="633.27" y="132.83" width="16.01" height="8.98" fill="#e7e7e6"/>
<rect x="633.27" y="143.01" width="16.01" height="8.98" fill="#e9ebe8"/>
<rect x="633.27" y="153.19" width="16.01" height="8.98" fill="#dcdedb"/>
<rect x="633.27" y="163.37" width="16.01" height="8.98" fill="#c5c9c3"/>
<rect x="633.27" y="173.55" width="16.01" height="8.98" fill="#d3d3d3"/>
<rect x="633.27" y="183.73" width="16.01" height="8.98" fill="#a5aaa2"/>
<rect x="633.27" y="193.91" width="16.01" height="8.98" fill="#687364"/>
<rect x="633.27" y="204.09" width="16.01" height="8.98" fill="#a5aaa2"/>
<rect x="633.27" y="214.27" width="16.01" height="8.98" fill="#7b8279"/>
<rect x="633.27" y="224.45" width="16.01" height="8.98" fill="#c2c6c0"/>
<rect x="650.48" y="10.67" width="16.01" height="8.98" fill="#ededed"/>
<rect x="650.48" y="20.85" width="16.01" height="8.98" fill="#f5f5f5"/>
<rect x="650.48" y="31.03" width="16.01" height="8.98" fill="#b5828a"/>
<rect x="650.48" y="41.21" width="16.01" height="8.98" fill="#ad7b80"/>
<rect x="650.48" y="51.39" width="16.01" height="8.98" fill="#f0f0f0"/>
<rect x="650.48" y="61.57" width="16.01" height="8.98" fill="#c5c9c3"/>
<rect x="650.48" y="71.75" width="16.01" height="8.98" fill="#d4b1b5"/>
<rect x="650.48" y="81.93" width="16.01" height="8.98" fill="#a57a7e"/>
<rect x="650.48" y="92.11" width="16.01" height="8.98" fill="#cda6aa"/>
<rect x="650.48" y="102.29" width="16.01" height="8.98" fill="#7a2f3a"/>
<rect x="650.48" y="112.47" width="16.01" height="8.98" fill="#bf9095"/>
<rect x="650.48" y="122.65" width="16.01" height="8.98" fill="#cdd0cb"/>
<rect x="650.48" y="132.83" width="16.01" height="8.98" fill="#a5aaa2"/>
<rect x="650.48" y="143.01" width="16.01" height="8.98" fill="#5f6b5c"/>
<rect x="650.48" y="153.19" width="16.01" height="8.98" fill="#c5c9c3"/>
<rect x="650.48" y="163.37" width="16.01" height="8.98" fill="#7b8279"/>
<rect x="650.48" y="173.55" width="16.01" height="8.98" fill="#8a9387"/>
<rect x="650.48" y="183.73" width="16.01" height="8.98" fill="#d3d3d3"/>
<rect x="650.48" y="193.91" width="16.01" height="8.98" fill="#d8dad7"/>
<rect x="650.48" y="204.09" width="16.01" height="8.98" fill="#dcdcdc"/>
<rect x="650.48" y="214.27" width="16.01" height="8.98" fill="#f2eaeb"/>
<rect x="650.48" y="224.45" width="16.01" height="8.98" fill="#d3d3d3"/>
<rect x="667.69" y="10.67" width="16.01" height="8.98" fill="#c2c6c0"/>
<rect x="667.69" y="20.85" width="16.01" height="8.98" fill="#7d847a"/>
<rect x="667.69" y="31.03" width="16.01" height="8.98" fill="#d8dad7"/>
<rect x="667.69" y="41.21" width="16.01" height="8.98" fill="#7f887d"/>
<rect x="667.69" y="51.39" width="16.01" height="8.98" fill="#f3efee"/>
<rect x="667.69" y="61.57" width="16.01" height="8.98" fill="#d8dad7"/>
<rect x="667.69" y="71.75" width="16.01" height="8.98" fill="#9ba298"/>
<rect x="667.69" y="81.93" width="16.01" height="8.98" fill="#959c92"/>
<rect x="667.69" y="92.11" width="16.01" height="8.98" fill="#f6f6f6"/>
<rect x="667.69" y="102.29" width="16.01" height="8.98" fill="#e8d8d9"/>
<rect x="667.69" y="112.47" width="16.01" height="8.98" fill="#e2e3e1"/>
<rect x="667.69" y="122.65" width="16.01" height="8.98" fill="#e5d2d4"/>
<rect x="667.69" y="132.83" width="16.01" height="8.98" fill="#7a2f3a"/>
<rect x="667.69" y="143.01" width="16.01" height="8.98" fill="#9f6a6f"/>
<rect x="667.69" y="153.19" width="16.01" height="8.98" fill="#ad7b80"/>
<rect x="667.69" y="163.37" width="16.01" height="8.98" fill="#ae7b80"/>
<rect x="667.69" y="173.55" width="16.01" height="8.98" fill="#8b4e55"/>
<rect x="667.69" y="183.73" width="16.01" height="8.98" fill="#7f887d"/>
<rect x="667.69" y="193.91" width="16.01" height="8.98" fill="#d8dad7"/>
<rect x="667.69" y="204.09" width="16.01" height="8.98" fill="#c2c6c0"/>
<rect x="667.69" y="214.27" width="16.01" height="8.98" fill="#c2c6c0"/>
<rect x="667.69" y="224.45" width="16.01" height="8.98" fill="#e3cfd1"/>
<line x1="334.50" y1="16.60" x2="334.50" y2="63.70" stroke="#6e6e6e" stroke-width="1.2" />
<line x1="334.50" y1="77.20" x2="334.50" y2="116.00" stroke="#6e6e6e" stroke-width="1.2" />
<line x1="334.50" y1="128.40" x2="334.50" y2="175.60" stroke="#6e6e6e" stroke-width="1.2" />
<line x1="334.50" y1="191.40" x2="334.50" y2="229.70" stroke="#6e6e6e" stroke-width="1.2" />
<text x="329.10" y="42.60" font-size="10.5" text-anchor="end" fill="#333" >ctrl</text>
<text x="329.10" y="99.70" font-size="10.5" text-anchor="end" font-style="italic" fill="#333" >C32E8.9</text>
<text x="329.10" y="154.90" font-size="10.5" text-anchor="end" font-style="italic" fill="#333" >mrps−5</text>
<text x="329.10" y="206.70" font-size="10.5" text-anchor="end" font-style="italic" fill="#333" >mrps−5 +</text>
<text x="329.10" y="219.40" font-size="10.5" text-anchor="end" font-style="italic" fill="#333" >C32E8.9</text>
<text transform="translate(347.21,236.6) rotate(-45)" x="0" y="7.34" font-size="10.2" text-anchor="end" font-style="italic" fill="#333">lin−45</text>
<text transform="translate(364.42,236.6) rotate(-45)" x="0" y="7.34" font-size="10.2" text-anchor="end" font-style="italic" fill="#333">mpk−1</text>
<text transform="translate(381.62,236.6) rotate(-45)" x="0" y="7.34" font-size="10.2" text-anchor="end" font-style="italic" font-weight="bold" fill="#111">pmk−1</text>
<text transform="translate(398.84,236.6) rotate(-45)" x="0" y="7.34" font-size="10.2" text-anchor="end" font-style="italic" font-weight="bold" fill="#111">sma−4</text>
<text transform="translate(416.05,236.6) rotate(-45)" x="0" y="7.34" font-size="10.2" text-anchor="end" font-style="italic" fill="#333">jkk−1</text>
<text transform="translate(433.25,236.6) rotate(-45)" x="0" y="7.34" font-size="10.2" text-anchor="end" font-style="italic" fill="#333">jnk−1</text>
<text transform="translate(450.47,236.6) rotate(-45)" x="0" y="7.34" font-size="10.2" text-anchor="end" font-style="italic" fill="#333">sma−2</text>
<text transform="translate(467.68,236.6) rotate(-45)" x="0" y="7.34" font-size="10.2" text-anchor="end" font-style="italic" fill="#333">daf−14</text>
<text transform="translate(484.88,236.6) rotate(-45)" x="0" y="7.34" font-size="10.2" text-anchor="end" font-style="italic" fill="#333">mkk−4</text>
<text transform="translate(502.10,236.6) rotate(-45)" x="0" y="7.34" font-size="10.2" text-anchor="end" font-style="italic" font-weight="bold" fill="#111">sma−3</text>
<text transform="translate(519.31,236.6) rotate(-45)" x="0" y="7.34" font-size="10.2" text-anchor="end" font-style="italic" fill="#333">dbl−1</text>
<text transform="translate(536.52,236.6) rotate(-45)" x="0" y="7.34" font-size="10.2" text-anchor="end" font-style="italic" font-weight="bold" fill="#111">sta−2</text>
<text transform="translate(553.73,236.6) rotate(-45)" x="0" y="7.34" font-size="10.2" text-anchor="end" font-style="italic" fill="#333">sta−1</text>
<text transform="translate(570.94,236.6) rotate(-45)" x="0" y="7.34" font-size="10.2" text-anchor="end" font-style="italic" fill="#333">mek−2</text>
<text transform="translate(588.14,236.6) rotate(-45)" x="0" y="7.34" font-size="10.2" text-anchor="end" font-style="italic" fill="#333">daf−1</text>
<text transform="translate(605.36,236.6) rotate(-45)" x="0" y="7.34" font-size="10.2" text-anchor="end" font-style="italic" fill="#333">daf−4</text>
<text transform="translate(622.57,236.6) rotate(-45)" x="0" y="7.34" font-size="10.2" text-anchor="end" font-style="italic" font-weight="bold" fill="#111">sek−1</text>
<text transform="translate(639.78,236.6) rotate(-45)" x="0" y="7.34" font-size="10.2" text-anchor="end" font-style="italic" font-weight="bold" fill="#111">nsy−1</text>
<text transform="translate(656.99,236.6) rotate(-45)" x="0" y="7.34" font-size="10.2" text-anchor="end" font-style="italic" font-weight="bold" fill="#111">mek−1</text>
<text transform="translate(674.20,236.6) rotate(-45)" x="0" y="7.34" font-size="10.2" text-anchor="end" font-style="italic" fill="#333">let−60</text>
<defs><linearGradient id="cb" x1="0" x2="1" y1="0" y2="0"><stop offset="0" stop-color="#3f4a3a"/><stop offset="0.5" stop-color="#ffffff"/><stop offset="1" stop-color="#7a2c38"/></linearGradient></defs>
<rect x="419.2" y="269.9" width="126.7" height="9.8" fill="url(#cb)"/>
<line x1="450.88" y1="269.90" x2="450.88" y2="271.40" stroke="#ffffff" stroke-width="0.8" />
<line x1="450.88" y1="278.20" x2="450.88" y2="279.70" stroke="#ffffff" stroke-width="0.8" />
<line x1="482.55" y1="269.90" x2="482.55" y2="271.40" stroke="#ffffff" stroke-width="0.8" />
<line x1="482.55" y1="278.20" x2="482.55" y2="279.70" stroke="#ffffff" stroke-width="0.8" />
<line x1="514.23" y1="269.90" x2="514.23" y2="271.40" stroke="#ffffff" stroke-width="0.8" />
<line x1="514.23" y1="278.20" x2="514.23" y2="279.70" stroke="#ffffff" stroke-width="0.8" />
<text x="419.60" y="290.20" font-size="9.6" text-anchor="middle" fill="#111" >−2</text>
<text x="450.98" y="290.20" font-size="9.6" text-anchor="middle" fill="#111" >−1</text>
<text x="482.35" y="290.20" font-size="9.6" text-anchor="middle" fill="#111" >0</text>
<text x="513.73" y="290.20" font-size="9.6" text-anchor="middle" fill="#111" >1</text>
<text x="545.10" y="290.20" font-size="9.6" text-anchor="middle" fill="#111" >2</text>
<text x="550.20" y="277.80" font-size="9.0" text-anchor="start" fill="#111" >z-score (cpm)</text>
<polyline points="49.20,352.10 76.79,353.78 90.41,361.37 112.06,406.86 133.37,435.29 139.31,439.60 150.83,449.92 160.96,451.61 182.26,451.61 188.90,454.24" fill="none" stroke="#9c0303" stroke-width="2.4" stroke-linejoin="round" stroke-linecap="butt"/>
<polyline points="49.20,352.10 76.79,352.10 91.46,356.10 111.37,428.65 125.34,452.77 132.67,456.03 140.00,457.40" fill="none" stroke="#686868" stroke-width="2.4" stroke-linejoin="round" stroke-linecap="butt"/>
<path d="M49.20,351.60 V457.40 H197.60" fill="none" stroke="#555" stroke-width="1.4"/>
<line x1="46.60" y1="431.07" x2="49.20" y2="431.07" stroke="#555" stroke-width="1.4" />
<text x="43.60" y="434.47" font-size="9.2" text-anchor="end" fill="#111" >25</text>
<line x1="46.60" y1="404.75" x2="49.20" y2="404.75" stroke="#555" stroke-width="1.4" />
<text x="43.60" y="408.15" font-size="9.2" text-anchor="end" fill="#111" >50</text>
<line x1="46.60" y1="378.42" x2="49.20" y2="378.42" stroke="#555" stroke-width="1.4" />
<text x="43.60" y="381.82" font-size="9.2" text-anchor="end" fill="#111" >75</text>
<line x1="46.60" y1="352.10" x2="49.20" y2="352.10" stroke="#555" stroke-width="1.4" />
<text x="43.60" y="355.50" font-size="9.2" text-anchor="end" fill="#111" >100</text>
<line x1="49.20" y1="457.40" x2="49.20" y2="460.00" stroke="#555" stroke-width="1.4" />
<text x="49.50" y="469.30" font-size="10.2" text-anchor="middle" fill="#111" >0</text>
<line x1="84.12" y1="457.40" x2="84.12" y2="460.00" stroke="#555" stroke-width="1.4" />
<line x1="119.05" y1="457.40" x2="119.05" y2="460.00" stroke="#555" stroke-width="1.4" />
<text x="119.35" y="469.30" font-size="10.2" text-anchor="middle" fill="#111" >20</text>
<line x1="153.98" y1="457.40" x2="153.98" y2="460.00" stroke="#555" stroke-width="1.4" />
<line x1="188.90" y1="457.40" x2="188.90" y2="460.00" stroke="#555" stroke-width="1.4" />
<text x="189.20" y="469.30" font-size="10.2" text-anchor="middle" fill="#111" >40</text>
<text x="124.00" y="482.70" font-size="9.6" text-anchor="middle" fill="#111" >Age (days)</text>
<text transform="translate(28.00,404.50) rotate(-90)" x="0" y="0" font-size="10.2" font-weight="bold" text-anchor="middle" fill="#111">% Survival</text>
<text x="116.90" y="336.50" font-size="11.5" text-anchor="middle" font-style="italic" fill="#111" >pmk-1(km25)</text>
<text x="148.40" y="361.40" font-size="10.4" text-anchor="start" fill="#333" >RNAi:</text>
<line x1="132.20" y1="372.30" x2="144.70" y2="372.30" stroke="#686868" stroke-width="2.6"/>
<text x="148.40" y="376.80" font-size="10.4" text-anchor="start" fill="#222" >ctrl</text>
<line x1="132.20" y1="391.60" x2="145.00" y2="391.60" stroke="#9c0303" stroke-width="2.6"/>
<text x="148.70" y="395.60" font-size="10.4" text-anchor="start" font-style="italic" fill="#222" >mrps-5</text>
<path d="M184.50,370.00 H189.10 V393.40 H184.50" fill="none" stroke="#111" stroke-width="1.3"/>
<text x="191.60" y="389.30" font-size="11.5" text-anchor="start" fill="#111" >***</text>
<polyline points="273.50,351.60 281.75,352.66 315.94,356.06 324.20,360.95 327.93,379.74 342.67,405.87 352.49,421.59 363.89,432.95 383.93,449.52 422.45,457.80" fill="none" stroke="#9c0303" stroke-width="2.4" stroke-linejoin="round" stroke-linecap="butt"/>
<polyline points="273.50,351.60 297.32,351.60 317.12,376.77 324.39,407.67 327.93,439.96 352.49,453.13 363.89,455.68 383.15,455.68" fill="none" stroke="#686868" stroke-width="2.4" stroke-linejoin="round" stroke-linecap="butt"/>
<path d="M273.50,351.10 V457.80 H430.90" fill="none" stroke="#333" stroke-width="1.4"/>
<line x1="270.90" y1="431.25" x2="273.50" y2="431.25" stroke="#333" stroke-width="1.4" />
<text x="267.00" y="434.65" font-size="9.2" text-anchor="end" fill="#111" >25</text>
<line x1="270.90" y1="404.70" x2="273.50" y2="404.70" stroke="#333" stroke-width="1.4" />
<text x="267.00" y="408.10" font-size="9.2" text-anchor="end" fill="#111" >50</text>
<line x1="270.90" y1="378.15" x2="273.50" y2="378.15" stroke="#333" stroke-width="1.4" />
<text x="267.00" y="381.55" font-size="9.2" text-anchor="end" fill="#111" >75</text>
<line x1="270.90" y1="351.60" x2="273.50" y2="351.60" stroke="#333" stroke-width="1.4" />
<text x="267.00" y="355.00" font-size="9.2" text-anchor="end" fill="#111" >100</text>
<line x1="273.50" y1="457.80" x2="273.50" y2="460.40" stroke="#333" stroke-width="1.4" />
<text x="273.80" y="471.80" font-size="10.2" text-anchor="middle" fill="#111" >0</text>
<line x1="312.80" y1="457.80" x2="312.80" y2="460.40" stroke="#333" stroke-width="1.4" />
<line x1="352.10" y1="457.80" x2="352.10" y2="460.40" stroke="#333" stroke-width="1.4" />
<text x="352.40" y="471.80" font-size="10.2" text-anchor="middle" fill="#111" >20</text>
<line x1="391.40" y1="457.80" x2="391.40" y2="460.40" stroke="#333" stroke-width="1.4" />
<line x1="430.70" y1="457.80" x2="430.70" y2="460.40" stroke="#333" stroke-width="1.4" />
<text x="431.00" y="471.80" font-size="10.2" text-anchor="middle" fill="#111" >40</text>
<text x="352.00" y="485.00" font-size="9.6" text-anchor="middle" fill="#111" >Age (days)</text>
<text transform="translate(250.60,401.70) rotate(-90)" x="0" y="0" font-size="10.2" font-weight="bold" text-anchor="middle" fill="#111">% Survival</text>
<text x="346.80" y="335.70" font-size="11.5" text-anchor="middle" font-style="italic" fill="#111" >mek-1(ks54) sek-1(qd127)</text>
<text x="372.20" y="367.40" font-size="10.4" text-anchor="start" fill="#333" >RNAi:</text>
<line x1="355.90" y1="379.30" x2="368.20" y2="379.30" stroke="#686868" stroke-width="2.6"/>
<text x="372.20" y="383.70" font-size="10.4" text-anchor="start" fill="#222" >ctrl</text>
<line x1="355.90" y1="398.50" x2="368.20" y2="398.50" stroke="#9c0303" stroke-width="2.6"/>
<text x="372.50" y="402.00" font-size="10.4" text-anchor="start" font-style="italic" fill="#222" >mrps-5</text>
<path d="M408.40,378.40 H412.00 V401.20 H408.40" fill="none" stroke="#111" stroke-width="1.3"/>
<text x="416.00" y="399.60" font-size="11.8" text-anchor="start" fill="#111" >****</text>
<polyline points="505.60,349.30 544.80,361.19 550.96,374.07 557.12,379.19 567.48,404.29 580.12,449.13 590.49,455.78 602.15,458.40" fill="none" stroke="#0a7a8f" stroke-width="1.7" stroke-linejoin="round" stroke-linecap="butt"/>
<polyline points="505.60,349.30 544.80,351.70 550.96,355.96 573.64,375.81 580.12,386.18 589.84,393.05 602.15,417.92 611.55,429.49 618.68,440.51 640.71,452.18 659.50,456.55 664.36,458.40" fill="none" stroke="#9c0303" stroke-width="1.7" stroke-linejoin="round" stroke-linecap="butt"/>
<polyline points="505.60,349.30 544.16,357.70 550.96,363.81 571.70,384.43 576.88,392.18 583.04,405.49 595.67,416.40 602.80,430.36 615.11,436.14 626.78,444.11 640.71,454.36 647.19,457.31 655.94,458.40" fill="none" stroke="#9c0303" stroke-width="1.7" stroke-linejoin="round" stroke-dasharray="4.6 2.8" stroke-linecap="butt"/>
<polyline points="505.60,349.30 545.45,358.57 550.64,373.30 557.76,383.56 567.48,393.05 574.29,407.67 580.44,434.40 588.87,451.42 594.70,457.31 597.94,458.40" fill="none" stroke="#686868" stroke-width="1.7" stroke-linejoin="round" stroke-linecap="butt"/>
<path d="M505.60,348.80 V458.40 H667.60" fill="none" stroke="#222" stroke-width="1.3"/>
<line x1="503.00" y1="431.12" x2="505.60" y2="431.12" stroke="#222" stroke-width="1.3" />
<text x="499.30" y="434.52" font-size="9.2" text-anchor="end" fill="#111" >25</text>
<line x1="503.00" y1="403.85" x2="505.60" y2="403.85" stroke="#222" stroke-width="1.3" />
<text x="499.30" y="407.25" font-size="9.2" text-anchor="end" fill="#111" >50</text>
<line x1="503.00" y1="376.57" x2="505.60" y2="376.57" stroke="#222" stroke-width="1.3" />
<text x="499.30" y="379.97" font-size="9.2" text-anchor="end" fill="#111" >75</text>
<line x1="503.00" y1="349.30" x2="505.60" y2="349.30" stroke="#222" stroke-width="1.3" />
<text x="499.30" y="352.70" font-size="9.2" text-anchor="end" fill="#111" >100</text>
<line x1="505.60" y1="458.40" x2="505.60" y2="461.00" stroke="#222" stroke-width="1.3" />
<text x="505.90" y="472.80" font-size="10.2" text-anchor="middle" fill="#111" >0</text>
<line x1="538.00" y1="458.40" x2="538.00" y2="461.00" stroke="#222" stroke-width="1.3" />
<line x1="570.40" y1="458.40" x2="570.40" y2="461.00" stroke="#222" stroke-width="1.3" />
<text x="570.70" y="472.80" font-size="10.2" text-anchor="middle" fill="#111" >20</text>
<line x1="602.80" y1="458.40" x2="602.80" y2="461.00" stroke="#222" stroke-width="1.3" />
<line x1="635.20" y1="458.40" x2="635.20" y2="461.00" stroke="#222" stroke-width="1.3" />
<text x="635.50" y="472.80" font-size="10.2" text-anchor="middle" fill="#111" >40</text>
<line x1="667.60" y1="458.40" x2="667.60" y2="461.00" stroke="#222" stroke-width="1.3" />
<text x="589.70" y="484.70" font-size="9.6" text-anchor="middle" fill="#111" >Age (days)</text>
<text transform="translate(483.50,398.40) rotate(-90)" x="0" y="0" font-size="10.2" font-weight="bold" text-anchor="middle" fill="#111">% Survival</text>
<text x="580.50" y="336.10" font-size="10.7" text-anchor="middle" fill="#111" >N2</text>
<text x="617.00" y="343.70" font-size="10.4" text-anchor="start" fill="#333" >RNAi:</text>
<line x1="601.40" y1="355.20" x2="611.90" y2="355.20" stroke="#686868" stroke-width="2.2"/>
<text x="617.30" y="357.90" font-size="10.4" text-anchor="start" fill="#222" >ctrl</text>
<line x1="601.40" y1="371.20" x2="611.90" y2="371.20" stroke="#9c0303" stroke-width="2.2"/>
<text x="615.00" y="373.50" font-size="10.4" text-anchor="start" font-style="italic" fill="#222" >mrps-5</text>
<line x1="601.40" y1="386.00" x2="611.90" y2="386.00" stroke="#0a7a8f" stroke-width="2.2"/>
<text x="617.00" y="388.50" font-size="10.4" text-anchor="start" font-style="italic" fill="#222" >nsy-1</text>
<line x1="601.40" y1="402.00" x2="611.90" y2="402.00" stroke="#9c0303" stroke-width="2.2" stroke-dasharray="4.8 3"/>
<text x="615.50" y="401.60" font-size="10.4" text-anchor="start" font-style="italic" fill="#222" >mrps-5+</text>
<text x="615.50" y="412.70" font-size="10.4" text-anchor="start" font-style="italic" fill="#222" >nsy-1</text>
<path d="M657.10,350.30 H659.40 V367.40 H657.10" fill="none" stroke="#111" stroke-width="1.3"/>
<text x="661.60" y="365.90" font-size="14.5" text-anchor="start" fill="#111" >****</text>
<path d="M663.70,369.00 H666.40 V402.10 H663.70" fill="none" stroke="#111" stroke-width="1.3"/>
<text x="669.80" y="388.20" font-size="12.4" text-anchor="start" fill="#111" >ns</text>
<polyline points="49.00,532.00 89.40,532.00 94.60,534.87 108.60,543.68 117.40,568.96 136.60,620.57 157.00,635.55 168.20,638.20" fill="none" stroke="#0a7a8f" stroke-width="2.3" stroke-linejoin="round" stroke-linecap="butt"/>
<polyline points="49.00,532.00 94.60,532.00 117.40,547.19 125.40,561.95 157.80,604.00 180.60,628.54 196.60,634.70 201.80,638.20" fill="none" stroke="#9c0303" stroke-width="2.3" stroke-linejoin="round" stroke-linecap="butt"/>
<polyline points="49.00,532.00 94.60,532.53 117.40,548.46 121.00,560.25 129.80,586.59 136.60,599.65 155.00,603.69 180.60,628.96 198.20,637.35" fill="none" stroke="#9c0303" stroke-width="2.3" stroke-linejoin="round" stroke-dasharray="4.6 2.8" stroke-linecap="butt"/>
<polyline points="49.00,532.00 89.40,532.00 99.00,536.99 108.60,542.83 117.40,548.89 136.60,617.17 157.80,631.08 180.60,638.20" fill="none" stroke="#686868" stroke-width="2.3" stroke-linejoin="round" stroke-linecap="butt"/>
<path d="M49.00,531.50 V638.20 H209.60" fill="none" stroke="#222" stroke-width="1.3"/>
<line x1="46.40" y1="611.65" x2="49.00" y2="611.65" stroke="#222" stroke-width="1.3" />
<text x="44.90" y="615.25" font-size="9.2" text-anchor="end" fill="#111" >25</text>
<line x1="46.40" y1="585.10" x2="49.00" y2="585.10" stroke="#222" stroke-width="1.3" />
<text x="44.90" y="588.70" font-size="9.2" text-anchor="end" fill="#111" >50</text>
<line x1="46.40" y1="558.55" x2="49.00" y2="558.55" stroke="#222" stroke-width="1.3" />
<text x="44.90" y="562.15" font-size="9.2" text-anchor="end" fill="#111" >75</text>
<line x1="46.40" y1="532.00" x2="49.00" y2="532.00" stroke="#222" stroke-width="1.3" />
<text x="44.90" y="535.60" font-size="9.2" text-anchor="end" fill="#111" >100</text>
<line x1="49.00" y1="638.20" x2="49.00" y2="640.80" stroke="#222" stroke-width="1.3" />
<text x="49.30" y="652.80" font-size="10.2" text-anchor="middle" fill="#111" >0</text>
<line x1="89.00" y1="638.20" x2="89.00" y2="640.80" stroke="#222" stroke-width="1.3" />
<line x1="129.00" y1="638.20" x2="129.00" y2="640.80" stroke="#222" stroke-width="1.3" />
<text x="129.30" y="652.80" font-size="10.2" text-anchor="middle" fill="#111" >20</text>
<line x1="169.00" y1="638.20" x2="169.00" y2="640.80" stroke="#222" stroke-width="1.3" />
<line x1="209.00" y1="638.20" x2="209.00" y2="640.80" stroke="#222" stroke-width="1.3" />
<text x="209.30" y="652.80" font-size="10.2" text-anchor="middle" fill="#111" >40</text>
<text x="136.50" y="664.50" font-size="9.6" text-anchor="middle" fill="#111" >Age (days)</text>
<text transform="translate(28.60,585.80) rotate(-90)" x="0" y="0" font-size="10.2" font-weight="bold" text-anchor="middle" fill="#111">% Survival</text>
<text x="120.50" y="521.80" font-size="10.7" text-anchor="middle" fill="#111" >N2</text>
<text x="66.60" y="566.90" font-size="10.4" text-anchor="start" fill="#333" >RNAi:</text>
<line x1="52.10" y1="579.20" x2="62.90" y2="579.20" stroke="#686868" stroke-width="2.6"/>
<text x="66.60" y="581.80" font-size="10.4" text-anchor="start" fill="#222" >ctrl</text>
<line x1="52.10" y1="595.30" x2="62.90" y2="595.30" stroke="#9c0303" stroke-width="2.6"/>
<text x="66.60" y="598.70" font-size="10.4" text-anchor="start" font-style="italic" fill="#222" >mrps-5</text>
<line x1="52.10" y1="609.90" x2="62.90" y2="609.90" stroke="#0a7a8f" stroke-width="2.6"/>
<text x="66.60" y="611.90" font-size="10.4" text-anchor="start" font-style="italic" fill="#222" >sta-2</text>
<line x1="52.10" y1="626.60" x2="62.90" y2="626.60" stroke="#9c0303" stroke-width="2.6" stroke-dasharray="4.8 3"/>
<text x="66.60" y="626.00" font-size="10.4" text-anchor="start" font-style="italic" fill="#222" >mrps-5+</text>
<text x="66.60" y="635.60" font-size="10.4" text-anchor="start" font-style="italic" fill="#222" >sta-2</text>
<path d="M113.20,594.60 H116.40 V631.50 H113.20" fill="none" stroke="#111" stroke-width="1.3"/>
<text x="117.60" y="616.40" font-size="11.8" text-anchor="start" fill="#111" >ns</text>
<polyline points="273.30,532.00 318.77,533.59 339.52,546.24 348.36,567.19 357.19,631.92 370.43,638.30" fill="none" stroke="#0a7a8f" stroke-width="2.3" stroke-linejoin="round" stroke-linecap="butt"/>
<polyline points="273.30,532.00 325.40,532.53 349.24,548.48 354.54,563.89 365.13,572.82 379.26,588.13 396.92,607.26 418.11,629.58 424.73,632.35 435.33,636.60" fill="none" stroke="#9c0303" stroke-width="2.3" stroke-linejoin="round" stroke-dasharray="4.6 2.8" stroke-linecap="butt"/>
<polyline points="273.30,532.00 325.40,532.00 349.24,547.20 358.07,562.83 418.11,628.41 440.63,638.30" fill="none" stroke="#9c0303" stroke-width="2.3" stroke-linejoin="round" stroke-linecap="butt"/>
<polyline points="273.30,532.00 325.40,532.74 349.24,550.71 370.43,617.04 393.39,630.97 419.00,638.30" fill="none" stroke="#686868" stroke-width="2.3" stroke-linejoin="round" stroke-linecap="butt"/>
<path d="M273.30,531.50 V638.30 H449.80" fill="none" stroke="#222" stroke-width="1.3"/>
<line x1="270.70" y1="611.72" x2="273.30" y2="611.72" stroke="#222" stroke-width="1.3" />
<text x="268.60" y="615.32" font-size="9.2" text-anchor="end" fill="#111" >25</text>
<line x1="270.70" y1="585.15" x2="273.30" y2="585.15" stroke="#222" stroke-width="1.3" />
<text x="268.60" y="588.75" font-size="9.2" text-anchor="end" fill="#111" >50</text>
<line x1="270.70" y1="558.57" x2="273.30" y2="558.57" stroke="#222" stroke-width="1.3" />
<text x="268.60" y="562.17" font-size="9.2" text-anchor="end" fill="#111" >75</text>
<line x1="270.70" y1="532.00" x2="273.30" y2="532.00" stroke="#222" stroke-width="1.3" />
<text x="268.60" y="535.60" font-size="9.2" text-anchor="end" fill="#111" >100</text>
<line x1="273.30" y1="638.30" x2="273.30" y2="640.90" stroke="#222" stroke-width="1.3" />
<text x="273.60" y="652.80" font-size="10.2" text-anchor="middle" fill="#111" >0</text>
<line x1="317.45" y1="638.30" x2="317.45" y2="640.90" stroke="#222" stroke-width="1.3" />
<line x1="361.60" y1="638.30" x2="361.60" y2="640.90" stroke="#222" stroke-width="1.3" />
<text x="361.90" y="652.80" font-size="10.2" text-anchor="middle" fill="#111" >20</text>
<line x1="405.75" y1="638.30" x2="405.75" y2="640.90" stroke="#222" stroke-width="1.3" />
<line x1="449.90" y1="638.30" x2="449.90" y2="640.90" stroke="#222" stroke-width="1.3" />
<text x="450.20" y="652.80" font-size="10.2" text-anchor="middle" fill="#111" >40</text>
<text x="363.60" y="664.50" font-size="9.6" text-anchor="middle" fill="#111" >Age (days)</text>
<text transform="translate(252.60,583.00) rotate(-90)" x="0" y="0" font-size="10.2" font-weight="bold" text-anchor="middle" fill="#111">% Survival</text>
<text x="361.10" y="525.80" font-size="10.7" text-anchor="middle" fill="#111" >N2</text>
<text x="292.70" y="568.20" font-size="10.4" text-anchor="start" fill="#333" >RNAi:</text>
<line x1="278.20" y1="580.00" x2="289.00" y2="580.00" stroke="#686868" stroke-width="2.6"/>
<text x="292.70" y="582.60" font-size="10.4" text-anchor="start" fill="#222" >ctrl</text>
<line x1="278.20" y1="596.10" x2="289.00" y2="596.10" stroke="#9c0303" stroke-width="2.6"/>
<text x="292.70" y="599.50" font-size="10.4" text-anchor="start" font-style="italic" fill="#222" >mrps-5</text>
<line x1="278.20" y1="611.10" x2="289.00" y2="611.10" stroke="#0a7a8f" stroke-width="2.6"/>
<text x="292.70" y="613.10" font-size="10.4" text-anchor="start" font-style="italic" fill="#222" >sma-3</text>
<line x1="278.20" y1="626.60" x2="289.00" y2="626.60" stroke="#9c0303" stroke-width="2.6" stroke-dasharray="4.8 3"/>
<text x="292.70" y="626.00" font-size="10.4" text-anchor="start" font-style="italic" fill="#222" >mrps-5+</text>
<text x="292.70" y="635.60" font-size="10.4" text-anchor="start" font-style="italic" fill="#222" >sma-3</text>
<path d="M334.00,593.60 H337.20 V630.50 H334.00" fill="none" stroke="#111" stroke-width="1.3"/>
<text x="339.40" y="616.40" font-size="11.8" text-anchor="start" fill="#111" >ns</text>
<polyline points="505.30,531.50 539.07,533.10 553.54,533.10 567.61,540.65 574.44,542.35 592.94,615.56 612.23,636.41 613.84,637.90" fill="none" stroke="#0a7a8f" stroke-width="2.3" stroke-linejoin="round" stroke-linecap="butt"/>
<polyline points="505.30,531.50 553.54,531.50 559.57,535.76 574.44,548.84 582.48,561.93 612.23,602.26 637.56,628.54 654.04,634.71 657.66,637.90" fill="none" stroke="#9c0303" stroke-width="2.3" stroke-linejoin="round" stroke-linecap="butt"/>
<polyline points="505.30,531.50 550.32,531.50 553.14,535.12 559.57,537.25 573.64,548.52 592.94,615.02 613.84,631.52 619.87,637.37" fill="none" stroke="#9c0303" stroke-width="2.3" stroke-linejoin="round" stroke-dasharray="4.6 2.8" stroke-linecap="butt"/>
<polyline points="505.30,531.50 551.93,532.56 559.57,536.61 567.61,540.97 573.64,547.99 592.94,615.45 613.84,630.35 638.36,637.90" fill="none" stroke="#686868" stroke-width="2.3" stroke-linejoin="round" stroke-linecap="butt"/>
<path d="M505.30,531.00 V637.90 H667.00" fill="none" stroke="#222" stroke-width="1.3"/>
<line x1="502.70" y1="611.30" x2="505.30" y2="611.30" stroke="#222" stroke-width="1.3" />
<text x="500.40" y="614.90" font-size="9.2" text-anchor="end" fill="#111" >25</text>
<line x1="502.70" y1="584.70" x2="505.30" y2="584.70" stroke="#222" stroke-width="1.3" />
<text x="500.40" y="588.30" font-size="9.2" text-anchor="end" fill="#111" >50</text>
<line x1="502.70" y1="558.10" x2="505.30" y2="558.10" stroke="#222" stroke-width="1.3" />
<text x="500.40" y="561.70" font-size="9.2" text-anchor="end" fill="#111" >75</text>
<line x1="502.70" y1="531.50" x2="505.30" y2="531.50" stroke="#222" stroke-width="1.3" />
<text x="500.40" y="535.10" font-size="9.2" text-anchor="end" fill="#111" >100</text>
<line x1="505.30" y1="637.90" x2="505.30" y2="640.50" stroke="#222" stroke-width="1.3" />
<text x="505.60" y="652.60" font-size="10.2" text-anchor="middle" fill="#111" >0</text>
<line x1="545.50" y1="637.90" x2="545.50" y2="640.50" stroke="#222" stroke-width="1.3" />
<line x1="585.70" y1="637.90" x2="585.70" y2="640.50" stroke="#222" stroke-width="1.3" />
<text x="586.00" y="652.60" font-size="10.2" text-anchor="middle" fill="#111" >20</text>
<line x1="625.90" y1="637.90" x2="625.90" y2="640.50" stroke="#222" stroke-width="1.3" />
<line x1="666.10" y1="637.90" x2="666.10" y2="640.50" stroke="#222" stroke-width="1.3" />
<text x="666.40" y="652.60" font-size="10.2" text-anchor="middle" fill="#111" >40</text>
<text x="591.80" y="664.30" font-size="9.6" text-anchor="middle" fill="#111" >Age (days)</text>
<text transform="translate(482.60,579.60) rotate(-90)" x="0" y="0" font-size="10.2" font-weight="bold" text-anchor="middle" fill="#111">% Survival</text>
<text x="582.50" y="521.50" font-size="10.7" text-anchor="middle" fill="#111" >N2</text>
<text x="523.00" y="565.10" font-size="10.4" text-anchor="start" fill="#333" >RNAi:</text>
<line x1="509.30" y1="577.90" x2="520.10" y2="577.90" stroke="#686868" stroke-width="2.6"/>
<text x="523.00" y="580.50" font-size="10.4" text-anchor="start" fill="#222" >ctrl</text>
<line x1="509.30" y1="591.90" x2="520.10" y2="591.90" stroke="#9c0303" stroke-width="2.6"/>
<text x="523.00" y="595.30" font-size="10.4" text-anchor="start" font-style="italic" fill="#222" >mrps-5</text>
<line x1="509.30" y1="609.40" x2="520.10" y2="609.40" stroke="#0a7a8f" stroke-width="2.6"/>
<text x="523.00" y="611.40" font-size="10.4" text-anchor="start" font-style="italic" fill="#222" >sma-4</text>
<line x1="509.30" y1="624.80" x2="520.10" y2="624.80" stroke="#9c0303" stroke-width="2.6" stroke-dasharray="4.8 3"/>
<text x="523.00" y="624.20" font-size="10.4" text-anchor="start" font-style="italic" fill="#222" >mrps-5+</text>
<text x="523.00" y="634.60" font-size="10.4" text-anchor="start" font-style="italic" fill="#222" >sma-4</text>
<path d="M566.40,590.50 H569.60 V627.40 H566.40" fill="none" stroke="#111" stroke-width="1.3"/>
<text x="572.00" y="616.40" font-size="10.2" text-anchor="start" fill="#111" >****</text>
<text x="10.50" y="728.60" font-size="10.3" text-anchor="start" fill="#111" >RNAi:</text>
<text x="45.80" y="728.60" font-size="10.3" text-anchor="start" fill="#111" >ctrl</text>
<text x="138.20" y="728.60" font-size="10.3" text-anchor="middle" font-style="italic" fill="#111" >sma-4</text>
<text x="222.60" y="728.60" font-size="10.3" text-anchor="middle" font-style="italic" fill="#111" >mrps-5</text>
<text x="308.30" y="728.60" font-size="10.3" text-anchor="middle" font-style="italic" fill="#111" >mrps-5 + sma-4</text>
<defs><filter id="blur1" x="-10%" y="-10%" width="120%" height="120%"><feGaussianBlur stdDeviation="0.6"/></filter><filter id="blur2" x="-50%" y="-50%" width="200%" height="200%"><feGaussianBlur stdDeviation="2.5"/></filter></defs>
<rect x="16.4" y="735.2" width="74.40" height="118.80" fill="#b5b5b5"/>
<rect x="101.1" y="735.2" width="74.10" height="118.80" fill="#b5b5b5"/>
<rect x="185.5" y="735.2" width="74.40" height="118.80" fill="#b5b5b5"/>
<rect x="269.9" y="735.2" width="74.30" height="118.80" fill="#b5b5b5"/>
<circle cx="73" cy="749" r="6" fill="#aaaaaa" filter="url(#blur2)"/>
<circle cx="72" cy="777" r="5.5" fill="#aaaaaa" filter="url(#blur2)"/>
<circle cx="72" cy="836" r="5" fill="#aaaaaa" filter="url(#blur2)"/>
<g filter="url(#blur1)"><path d="M30.60,747.60 L33.90,766.50 L36.60,786.40 L37.20,803.60 L39.90,819.50 L46.50,832.70 L54.40,843.30 L58.10,848.60 L61.10,848.60 L62.50,846.00 L64.40,840.70 L65.70,826.00 L65.00,806.20 L63.00,786.40 L59.70,773.10 L53.10,756.90 Z" fill="#747474" stroke="#444444" stroke-width="1.0" stroke-linejoin="round"/><polyline points="32.85,748.53 36.48,767.16 39.24,786.40 39.98,803.86 42.48,820.15 48.29,833.50 55.21,843.57 58.40,848.60" fill="none" stroke="#545454" stroke-width="2.2" stroke-linecap="round" stroke-linejoin="round"/><polyline points="37.35,750.39 41.64,768.48 44.52,786.40 45.54,804.38 47.64,821.45 51.87,835.10 56.83,844.11 59.00,848.60" fill="none" stroke="#545454" stroke-width="2.2" stroke-linecap="round" stroke-linejoin="round"/><polyline points="41.85,752.25 46.80,769.80 49.80,786.40 51.10,804.90 52.80,822.75 55.45,836.70 58.45,844.65 59.60,848.60" fill="none" stroke="#545454" stroke-width="2.2" stroke-linecap="round" stroke-linejoin="round"/><polyline points="46.35,754.11 51.96,771.12 55.08,786.40 56.66,805.42 57.96,824.05 59.03,838.30 60.07,845.19 60.20,848.60" fill="none" stroke="#545454" stroke-width="2.2" stroke-linecap="round" stroke-linejoin="round"/><polyline points="50.85,755.97 57.12,772.44 60.36,786.40 62.22,805.94 63.12,825.35 62.61,839.90 61.69,845.73 60.80,848.60" fill="none" stroke="#545454" stroke-width="2.2" stroke-linecap="round" stroke-linejoin="round"/><polyline points="35.10,749.46 39.06,767.82 41.88,786.40 42.76,804.12 45.06,820.80 50.08,834.30 56.02,843.84 58.70,848.60" fill="none" stroke="#979797" stroke-width="1.2" stroke-linecap="round" stroke-linejoin="round"/><polyline points="39.60,751.32 44.22,769.14 47.16,786.40 48.32,804.64 50.22,822.10 53.66,835.90 57.64,844.38 59.30,848.60" fill="none" stroke="#979797" stroke-width="1.2" stroke-linecap="round" stroke-linejoin="round"/><polyline points="44.10,753.18 49.38,770.46 52.44,786.40 53.88,805.16 55.38,823.40 57.24,837.50 59.26,844.92 59.90,848.60" fill="none" stroke="#979797" stroke-width="1.2" stroke-linecap="round" stroke-linejoin="round"/><polyline points="48.60,755.04 54.54,771.78 57.72,786.40 59.44,805.68 60.54,824.70 60.82,839.10 60.88,845.46 60.50,848.60" fill="none" stroke="#979797" stroke-width="1.2" stroke-linecap="round" stroke-linejoin="round"/><path d="M30,746 L32.2,757 L56,763 L53.5,756 Z" fill="#bdbdbd" opacity="0.75"/></g>
<g filter="url(#blur1)"><path d="M126.50,765.80 L124.30,783.30 L122.70,799.80 L123.20,816.20 L126.00,828.20 L129.20,832.60 L136.90,831.50 L143.50,823.90 L147.90,810.70 L150.00,794.30 L151.10,777.90 L150.00,766.00 Z" fill="#747474" stroke="#444444" stroke-width="1.0" stroke-linejoin="round"/><polyline points="127.91,765.81 125.91,782.98 124.34,799.47 124.68,815.87 127.05,827.94 129.66,832.53" fill="none" stroke="#545454" stroke-width="2.2" stroke-linecap="round" stroke-linejoin="round"/><polyline points="133.55,765.86 132.34,781.68 130.89,798.15 130.61,814.55 131.25,826.91 131.51,832.27" fill="none" stroke="#545454" stroke-width="2.2" stroke-linecap="round" stroke-linejoin="round"/><polyline points="135.43,765.88 134.48,781.25 133.07,797.71 132.59,814.11 132.65,826.57 132.13,832.18" fill="none" stroke="#545454" stroke-width="2.2" stroke-linecap="round" stroke-linejoin="round"/><polyline points="141.07,765.92 140.92,779.95 139.63,796.39 138.51,812.79 136.85,825.53 133.97,831.92" fill="none" stroke="#545454" stroke-width="2.2" stroke-linecap="round" stroke-linejoin="round"/><polyline points="142.95,765.94 143.06,779.52 141.81,795.95 140.49,812.35 138.25,825.19 134.59,831.83" fill="none" stroke="#545454" stroke-width="2.2" stroke-linecap="round" stroke-linejoin="round"/><polyline points="148.35,765.99 149.22,778.28 148.09,794.68 146.17,811.09 142.28,824.20 136.36,831.58" fill="none" stroke="#545454" stroke-width="2.2" stroke-linecap="round" stroke-linejoin="round"/><polyline points="130.73,765.84 129.12,782.33 127.61,798.81 127.65,815.21 129.15,827.43 130.59,832.40" fill="none" stroke="#979797" stroke-width="1.2" stroke-linecap="round" stroke-linejoin="round"/><polyline points="138.25,765.90 137.70,780.60 136.35,797.05 135.55,813.45 134.75,826.05 133.05,832.05" fill="none" stroke="#979797" stroke-width="1.2" stroke-linecap="round" stroke-linejoin="round"/><polyline points="145.77,765.96 146.28,778.87 145.09,795.29 143.45,811.69 140.35,824.67 135.51,831.70" fill="none" stroke="#979797" stroke-width="1.2" stroke-linecap="round" stroke-linejoin="round"/></g>
<path d="M126.90,767 L126.90,761 Q126.90,753.50 131.20,751.50 Q135.50,753.50 135.50,761 L135.50,767 Z" fill="#c2c2c2" stroke="#555" stroke-width="0.7" filter="url(#blur1)"/>
<path d="M135.60,767 L135.60,761 Q135.60,757.50 138.30,755.50 Q141.00,757.50 141.00,761 L141.00,767 Z" fill="#c2c2c2" stroke="#555" stroke-width="0.7" filter="url(#blur1)"/>
<path d="M141.70,767 L141.70,761 Q141.70,758.50 145.90,756.50 Q150.10,758.50 150.10,761 L150.10,767 Z" fill="#c2c2c2" stroke="#555" stroke-width="0.7" filter="url(#blur1)"/>
<g filter="url(#blur1)"><path d="M213.80,757.70 L210.90,773.80 L209.20,796.80 L209.80,814.10 L212.70,825.60 L218.40,832.60 L225.30,836.00 L227.60,837.20 L231.10,829.00 L232.30,814.10 L231.70,796.80 L230.50,779.60 L227.60,768.00 L223.00,756.50 Z" fill="#868686" stroke="#444444" stroke-width="1.0" stroke-linejoin="round"/><polyline points="214.90,757.56 212.90,773.10 211.76,794.74 212.43,812.02 215.05,824.22 219.92,832.17 225.58,836.14" fill="none" stroke="#646464" stroke-width="2.2" stroke-linecap="round" stroke-linejoin="round"/><polyline points="218.40,757.10 219.25,770.90 219.85,788.20 220.75,805.45 222.50,819.85 224.75,830.80 226.45,836.60" fill="none" stroke="#646464" stroke-width="2.2" stroke-linecap="round" stroke-linejoin="round"/><polyline points="221.62,756.68 225.09,768.87 227.31,782.18 228.41,799.39 229.36,815.83 229.19,829.54 227.25,837.02" fill="none" stroke="#646464" stroke-width="2.2" stroke-linecap="round" stroke-linejoin="round"/><polyline points="217.02,757.28 216.75,771.77 216.66,790.78 217.47,808.04 219.56,821.58 222.84,831.34 226.11,836.42" fill="none" stroke="#a9a9a9" stroke-width="1.2" stroke-linecap="round" stroke-linejoin="round"/><polyline points="220.06,756.88 222.26,769.86 223.68,785.10 224.69,802.34 226.03,817.78 227.04,830.15 226.86,836.82" fill="none" stroke="#a9a9a9" stroke-width="1.2" stroke-linecap="round" stroke-linejoin="round"/><path d="M214,758 Q217,751 223,756.5 L226,766 L212,767 Z" fill="#bdbdbd" opacity="0.8"/></g>
<g filter="url(#blur1)"><path d="M290.20,765.00 L289.00,778.80 L290.20,801.80 L293.10,819.10 L297.70,830.60 L304.60,838.70 L309.20,841.00 L310.90,841.60 L316.10,828.30 L316.70,813.40 L315.50,796.10 L312.60,778.80 L308.00,767.30 L301.10,759.20 Z" fill="#767676" stroke="#444444" stroke-width="1.0" stroke-linejoin="round"/><polyline points="291.07,764.54 290.52,777.88 291.99,799.96 294.89,817.26 299.22,829.22 305.52,837.87 309.34,841.05" fill="none" stroke="#545454" stroke-width="2.2" stroke-linecap="round" stroke-linejoin="round"/><polyline points="293.69,763.14 295.08,775.12 297.37,794.44 300.27,811.74 303.78,825.10 308.28,835.37 309.74,841.19" fill="none" stroke="#545454" stroke-width="2.2" stroke-linecap="round" stroke-linejoin="round"/><polyline points="296.30,761.75 299.64,772.36 302.74,788.92 305.64,806.22 308.34,820.97 311.04,832.88 310.15,841.34" fill="none" stroke="#545454" stroke-width="2.2" stroke-linecap="round" stroke-linejoin="round"/><polyline points="298.92,760.36 304.20,769.60 308.12,783.40 311.02,800.70 312.90,816.84 313.80,830.38 310.56,841.48" fill="none" stroke="#545454" stroke-width="2.2" stroke-linecap="round" stroke-linejoin="round"/><polyline points="292.38,763.84 292.80,776.50 294.68,797.20 297.58,814.50 301.50,827.16 306.90,836.62 309.54,841.12" fill="none" stroke="#979797" stroke-width="1.2" stroke-linecap="round" stroke-linejoin="round"/><polyline points="295.00,762.45 297.36,773.74 300.06,791.68 302.96,808.98 306.06,823.03 309.66,834.12 309.95,841.26" fill="none" stroke="#979797" stroke-width="1.2" stroke-linecap="round" stroke-linejoin="round"/><polyline points="297.61,761.06 301.92,770.98 305.43,786.16 308.33,803.46 310.62,818.90 312.42,831.63 310.36,841.41" fill="none" stroke="#979797" stroke-width="1.2" stroke-linecap="round" stroke-linejoin="round"/><polyline points="300.01,759.78 306.10,768.45 310.36,781.10 313.26,798.40 314.80,815.12 314.95,829.34 310.73,841.54" fill="none" stroke="#979797" stroke-width="1.2" stroke-linecap="round" stroke-linejoin="round"/><path d="M290.5,766 Q292,757 296,758 Q299,756 302,760 L305,771 L290,773 Z" fill="#bdbdbd" opacity="0.8"/></g>
<rect x="308.5" y="849.1" width="32.8" height="2.6" fill="#000"/>
<text x="329.30" y="867.00" font-size="10.5" text-anchor="start" fill="#111" >N2</text>
<path d="M447.8,717.9 V855.0 H599" fill="none" stroke="#222" stroke-width="1.2"/>
<line x1="445.20" y1="855.00" x2="447.80" y2="855.00" stroke="#222" stroke-width="1.2" />
<text x="442.60" y="858.30" font-size="9.3" text-anchor="end" fill="#111" >0</text>
<line x1="445.20" y1="817.30" x2="447.80" y2="817.30" stroke="#222" stroke-width="1.2" />
<text x="442.60" y="820.60" font-size="9.3" text-anchor="end" fill="#111" >0.2</text>
<line x1="445.20" y1="779.60" x2="447.80" y2="779.60" stroke="#222" stroke-width="1.2" />
<text x="442.60" y="782.90" font-size="9.3" text-anchor="end" fill="#111" >0.4</text>
<line x1="445.20" y1="741.90" x2="447.80" y2="741.90" stroke="#222" stroke-width="1.2" />
<text x="442.60" y="745.20" font-size="9.3" text-anchor="end" fill="#111" >0.6</text>
<text transform="translate(416.3,791) rotate(-90)" x="0" y="0" font-size="11.6" font-weight="bold" text-anchor="middle" fill="#111">Average body width</text>
<path d="M459.6,855.0 V724.8 H482.1 V855.0" fill="#fff" stroke="#666666" stroke-width="1.5"/>
<line x1="465.20" y1="721.70" x2="476.50" y2="721.70" stroke="#666666" stroke-width="1.1" />
<line x1="465.20" y1="729.60" x2="476.50" y2="729.60" stroke="#666666" stroke-width="1.1" />
<line x1="470.85" y1="721.70" x2="470.85" y2="729.60" stroke="#666666" stroke-width="1.1" />
<circle cx="462.2" cy="722.2" r="3.0" fill="#626262"/>
<circle cx="470.3" cy="724.3" r="3.0" fill="#626262"/>
<circle cx="479.5" cy="722.7" r="3.0" fill="#626262"/>
<circle cx="470.8" cy="731.4" r="3.0" fill="#626262"/>
<path d="M494.3,855.0 V724.6 H516.8 V855.0" fill="#fff" stroke="#4a90a6" stroke-width="1.5"/>
<line x1="499.50" y1="721.50" x2="511.50" y2="721.50" stroke="#4a90a6" stroke-width="1.1" />
<line x1="499.50" y1="726.00" x2="511.50" y2="726.00" stroke="#4a90a6" stroke-width="1.1" />
<line x1="505.50" y1="721.50" x2="505.50" y2="726.00" stroke="#4a90a6" stroke-width="1.1" />
<circle cx="496.4" cy="726.3" r="3.0" fill="#32819a"/>
<circle cx="502.2" cy="720.4" r="3.0" fill="#32819a"/>
<circle cx="508.1" cy="723.8" r="3.0" fill="#32819a"/>
<circle cx="514.3" cy="723.2" r="3.0" fill="#32819a"/>
<path d="M528.6,855.0 V749.9 H552.1 V855.0" fill="#fff" stroke="#a8271f" stroke-width="1.5"/>
<line x1="535.00" y1="746.90" x2="546.00" y2="746.90" stroke="#a8271f" stroke-width="1.1" />
<line x1="535.00" y1="753.00" x2="546.00" y2="753.00" stroke="#a8271f" stroke-width="1.1" />
<line x1="540.50" y1="746.90" x2="540.50" y2="753.00" stroke="#a8271f" stroke-width="1.1" />
<circle cx="531.6" cy="754.0" r="3.0" fill="#9c1a13"/>
<circle cx="537.3" cy="746.9" r="3.0" fill="#9c1a13"/>
<circle cx="543.4" cy="749.4" r="3.0" fill="#9c1a13"/>
<circle cx="549.0" cy="747.4" r="3.0" fill="#9c1a13"/>
<path d="M563.8,855.0 V739.4 H586.8 V855.0" fill="#fff" stroke="#c27530" stroke-width="1.5"/>
<line x1="570.00" y1="735.60" x2="580.50" y2="735.60" stroke="#c27530" stroke-width="1.1" />
<line x1="570.00" y1="740.40" x2="580.50" y2="740.40" stroke="#c27530" stroke-width="1.1" />
<line x1="575.25" y1="735.60" x2="575.25" y2="740.40" stroke="#c27530" stroke-width="1.1" />
<circle cx="566.4" cy="735.1" r="3.0" fill="#c06c24"/>
<circle cx="575.1" cy="736.1" r="3.0" fill="#c06c24"/>
<circle cx="583.8" cy="739.7" r="3.0" fill="#c06c24"/>
<circle cx="566.4" cy="742.8" r="3.0" fill="#c06c24"/>
<path d="M472.3,710.7 V704.8 H549.3 V722.2" fill="none" stroke="#444" stroke-width="1.1"/>
<text x="510.20" y="706.20" font-size="11.9" text-anchor="middle" fill="#111" >****</text>
<path d="M551.2,721.4 V717.0 H588.0 V721.4" fill="none" stroke="#444" stroke-width="1.1"/>
<text x="571.10" y="718.60" font-size="11.2" text-anchor="middle" fill="#111" >**</text>
<text x="629.20" y="756.70" font-size="10.3" text-anchor="start" fill="#444" >RNAi:</text>
<circle cx="619.0" cy="770.4" r="3.5" fill="#676767"/>
<text x="629.20" y="772.70" font-size="10.3" text-anchor="start" fill="#111" >ctrl</text>
<circle cx="619.0" cy="789.4" r="3.5" fill="#3b89a0"/>
<text x="629.20" y="792.60" font-size="10.3" text-anchor="start" font-style="italic" fill="#111" >sma-4</text>
<circle cx="619.0" cy="809.1" r="3.5" fill="#9e1c16"/>
<text x="629.20" y="811.00" font-size="10.3" text-anchor="start" font-style="italic" fill="#111" >mrps-5</text>
<circle cx="619.0" cy="828.7" r="3.5" fill="#c27530"/>
<text x="629.20" y="831.00" font-size="10.3" text-anchor="start" font-style="italic" fill="#111" >mrps-5 +</text>
<text x="629.20" y="842.70" font-size="10.3" text-anchor="start" font-style="italic" fill="#111" >sma-4</text>
</svg></body></html>
